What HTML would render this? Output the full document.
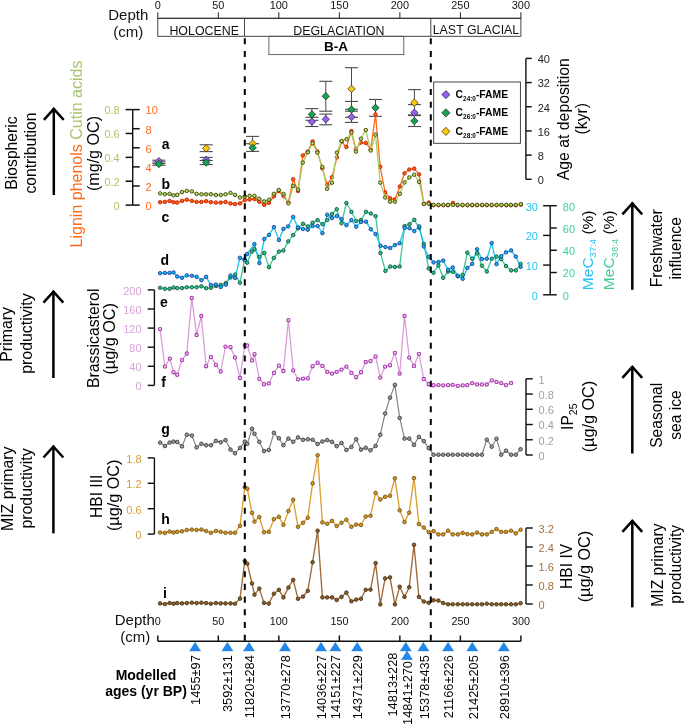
<!DOCTYPE html>
<html><head><meta charset="utf-8"><style>
html,body{margin:0;padding:0;background:#fff;width:685px;height:725px;overflow:hidden;position:relative}
svg text{font-family:"Liberation Sans",sans-serif}
svg{will-change:transform}
</style></head><body>
<svg width="685" height="725" viewBox="0 0 685 725" style="position:absolute;left:0;top:0">
<g font-family='"Liberation Sans", sans-serif'>
<line x1="157.8" y1="18.3" x2="520.9" y2="18.3" stroke="#222" stroke-width="1" />
<line x1="157.8" y1="12.3" x2="157.8" y2="18.3" stroke="#222" stroke-width="1" />
<text x="157.8" y="8.9" font-size="10.9" fill="#111" text-anchor="middle" font-weight="normal" >0</text>
<line x1="218.31666666666666" y1="12.3" x2="218.31666666666666" y2="18.3" stroke="#222" stroke-width="1" />
<text x="218.3" y="8.9" font-size="10.9" fill="#111" text-anchor="middle" font-weight="normal" >50</text>
<line x1="278.83333333333337" y1="12.3" x2="278.83333333333337" y2="18.3" stroke="#222" stroke-width="1" />
<text x="278.8" y="8.9" font-size="10.9" fill="#111" text-anchor="middle" font-weight="normal" >100</text>
<line x1="339.35" y1="12.3" x2="339.35" y2="18.3" stroke="#222" stroke-width="1" />
<text x="339.4" y="8.9" font-size="10.9" fill="#111" text-anchor="middle" font-weight="normal" >150</text>
<line x1="399.8666666666667" y1="12.3" x2="399.8666666666667" y2="18.3" stroke="#222" stroke-width="1" />
<text x="399.9" y="8.9" font-size="10.9" fill="#111" text-anchor="middle" font-weight="normal" >200</text>
<line x1="460.38333333333327" y1="12.3" x2="460.38333333333327" y2="18.3" stroke="#222" stroke-width="1" />
<text x="460.4" y="8.9" font-size="10.9" fill="#111" text-anchor="middle" font-weight="normal" >250</text>
<line x1="520.9" y1="12.3" x2="520.9" y2="18.3" stroke="#222" stroke-width="1" />
<text x="520.9" y="8.9" font-size="10.9" fill="#111" text-anchor="middle" font-weight="normal" >300</text>
<rect x="157.8" y="18.3" width="363.09999999999997" height="18" fill="none" stroke="#333" stroke-width="0.9"/>
<line x1="244.5" y1="18.3" x2="244.5" y2="36.3" stroke="#333" stroke-width="0.9" />
<line x1="430.8" y1="18.3" x2="430.8" y2="36.3" stroke="#333" stroke-width="0.9" />
<text x="204.2" y="34.5" font-size="12.4" fill="#111" text-anchor="middle" font-weight="normal" >HOLOCENE</text>
<text x="338.9" y="34.5" font-size="12.4" fill="#111" text-anchor="middle" font-weight="normal" >DEGLACIATION</text>
<text x="476" y="34.3" font-size="12.4" fill="#111" text-anchor="middle" font-weight="normal" >LAST GLACIAL</text>
<rect x="268.9" y="36.3" width="134.9" height="18.3" fill="none" stroke="#555" stroke-width="0.9"/>
<text x="336" y="50.6" font-size="13.5" fill="#000" text-anchor="middle" font-weight="bold" >B-A</text>
<text x="128.3" y="20.4" font-size="15" fill="#111" text-anchor="middle" font-weight="normal" >Depth</text>
<text x="128.3" y="37.1" font-size="15" fill="#111" text-anchor="middle" font-weight="normal" >(cm)</text>
<text transform="translate(17,153) rotate(-90)" font-size="15.7" fill="#000" text-anchor="middle" font-weight="normal">Biospheric</text>
<text transform="translate(36,153) rotate(-90)" font-size="15.7" fill="#000" text-anchor="middle" font-weight="normal">contribution</text>
<line x1="53.8" y1="108" x2="53.8" y2="195" stroke="#000" stroke-width="2.5"/>
<polyline points="43.9,119.8 53.8,108.8 63.699999999999996,119.8" fill="none" stroke="#000" stroke-width="2.5" stroke-linejoin="miter" stroke-miterlimit="10"/>
<text transform="translate(81.6,154) rotate(-90)" font-size="16" text-anchor="middle"><tspan fill="#ff6a1a">Lignin phenols </tspan><tspan fill="#a9c56b">Cutin acids</tspan></text>
<text transform="translate(99.3,153.5) rotate(-90)" font-size="16.1" fill="#000" text-anchor="middle" font-weight="normal">(mg/g OC)</text>
<line x1="132.7" y1="109.6" x2="132.7" y2="205.1" stroke="#111" stroke-width="1.4" />
<line x1="125.6" y1="205.1" x2="132.7" y2="205.1" stroke="#111" stroke-width="1.5" />
<text x="119.7" y="209.9" font-size="11" fill="#a9c56b" text-anchor="end" font-weight="normal" >0</text>
<line x1="125.6" y1="181.225" x2="132.7" y2="181.225" stroke="#111" stroke-width="1.5" />
<text x="119.7" y="186.025" font-size="11" fill="#a9c56b" text-anchor="end" font-weight="normal" >0.2</text>
<line x1="125.6" y1="157.35" x2="132.7" y2="157.35" stroke="#111" stroke-width="1.5" />
<text x="119.7" y="162.15" font-size="11" fill="#a9c56b" text-anchor="end" font-weight="normal" >0.4</text>
<line x1="125.6" y1="133.475" x2="132.7" y2="133.475" stroke="#111" stroke-width="1.5" />
<text x="119.7" y="138.275" font-size="11" fill="#a9c56b" text-anchor="end" font-weight="normal" >0.6</text>
<line x1="125.6" y1="109.6" x2="132.7" y2="109.6" stroke="#111" stroke-width="1.5" />
<text x="119.7" y="114.39999999999999" font-size="11" fill="#a9c56b" text-anchor="end" font-weight="normal" >0.8</text>
<line x1="132.7" y1="205.1" x2="139.7" y2="205.1" stroke="#111" stroke-width="1.5" />
<text x="145.6" y="209.9" font-size="11" fill="#ff6a1a" text-anchor="start" font-weight="normal" >0</text>
<line x1="132.7" y1="186.0" x2="139.7" y2="186.0" stroke="#111" stroke-width="1.5" />
<text x="145.6" y="190.8" font-size="11" fill="#ff6a1a" text-anchor="start" font-weight="normal" >2</text>
<line x1="132.7" y1="166.89999999999998" x2="139.7" y2="166.89999999999998" stroke="#111" stroke-width="1.5" />
<text x="145.6" y="171.7" font-size="11" fill="#ff6a1a" text-anchor="start" font-weight="normal" >4</text>
<line x1="132.7" y1="147.8" x2="139.7" y2="147.8" stroke="#111" stroke-width="1.5" />
<text x="145.6" y="152.60000000000002" font-size="11" fill="#ff6a1a" text-anchor="start" font-weight="normal" >6</text>
<line x1="132.7" y1="128.7" x2="139.7" y2="128.7" stroke="#111" stroke-width="1.5" />
<text x="145.6" y="133.5" font-size="11" fill="#ff6a1a" text-anchor="start" font-weight="normal" >8</text>
<line x1="132.7" y1="109.6" x2="139.7" y2="109.6" stroke="#111" stroke-width="1.5" />
<text x="145.6" y="114.39999999999999" font-size="11" fill="#ff6a1a" text-anchor="start" font-weight="normal" >10</text>
<text x="161.8" y="149" font-size="14" fill="#000" text-anchor="start" font-weight="bold" >a</text>
<text x="161.6" y="188.5" font-size="14" fill="#000" text-anchor="start" font-weight="bold" >b</text>
<line x1="525.9" y1="58.4" x2="525.9" y2="179.3" stroke="#111" stroke-width="1.4" />
<line x1="525.9" y1="179.3" x2="531.7" y2="179.3" stroke="#111" stroke-width="1.45" />
<text x="537.7" y="184.10000000000002" font-size="11" fill="#222" text-anchor="start" font-weight="normal" >0</text>
<line x1="525.9" y1="155.12" x2="531.7" y2="155.12" stroke="#111" stroke-width="1.45" />
<text x="537.7" y="159.92000000000002" font-size="11" fill="#222" text-anchor="start" font-weight="normal" >8</text>
<line x1="525.9" y1="130.94" x2="531.7" y2="130.94" stroke="#111" stroke-width="1.45" />
<text x="537.7" y="135.74" font-size="11" fill="#222" text-anchor="start" font-weight="normal" >16</text>
<line x1="525.9" y1="106.76" x2="531.7" y2="106.76" stroke="#111" stroke-width="1.45" />
<text x="537.7" y="111.56" font-size="11" fill="#222" text-anchor="start" font-weight="normal" >24</text>
<line x1="525.9" y1="82.58000000000001" x2="531.7" y2="82.58000000000001" stroke="#111" stroke-width="1.45" />
<text x="537.7" y="87.38000000000001" font-size="11" fill="#222" text-anchor="start" font-weight="normal" >32</text>
<line x1="525.9" y1="58.400000000000006" x2="531.7" y2="58.400000000000006" stroke="#111" stroke-width="1.45" />
<text x="537.7" y="63.2" font-size="11" fill="#222" text-anchor="start" font-weight="normal" >40</text>
<text transform="translate(568.6,119.2) rotate(-90)" font-size="15.8" fill="#000" text-anchor="middle" font-weight="normal">Age at deposition</text>
<text transform="translate(586.6,118.7) rotate(-90)" font-size="15.8" fill="#000" text-anchor="middle" font-weight="normal">(kyr)</text>
<rect x="433.7" y="82" width="86.7" height="61.3" fill="#fff" stroke="#333" stroke-width="0.9"/>
<polygon points="445.9,90.5 450.0,94.6 445.9,98.69999999999999 441.79999999999995,94.6" fill="#9a5cf6" stroke="#222" stroke-width="0.7"/>
<text x="455.6" y="97.8" font-size="11.6" font-weight="bold" textLength="52.5" lengthAdjust="spacingAndGlyphs">C<tspan font-size="7.2" dy="3">24:0</tspan><tspan dy="-3">-FAME</tspan></text>
<polygon points="445.9,108.7 450.0,112.8 445.9,116.89999999999999 441.79999999999995,112.8" fill="#14a452" stroke="#222" stroke-width="0.7"/>
<text x="455.6" y="116.0" font-size="11.6" font-weight="bold" textLength="52.5" lengthAdjust="spacingAndGlyphs">C<tspan font-size="7.2" dy="3">26:0</tspan><tspan dy="-3">-FAME</tspan></text>
<polygon points="445.9,127.30000000000001 450.0,131.4 445.9,135.5 441.79999999999995,131.4" fill="#ffc800" stroke="#222" stroke-width="0.7"/>
<text x="455.6" y="134.6" font-size="11.6" font-weight="bold" textLength="52.5" lengthAdjust="spacingAndGlyphs">C<tspan font-size="7.2" dy="3">28:0</tspan><tspan dy="-3">-FAME</tspan></text>
<line x1="158.9" y1="160.2" x2="158.9" y2="162" stroke="#4a4a4a" stroke-width="1" />
<line x1="158.9" y1="163.6" x2="158.9" y2="165.3" stroke="#4a4a4a" stroke-width="1" />
<line x1="152.4" y1="160.2" x2="165.4" y2="160.2" stroke="#4a4a4a" stroke-width="1.1" />
<line x1="152.4" y1="162" x2="165.4" y2="162" stroke="#4a4a4a" stroke-width="1.1" />
<line x1="152.4" y1="163.6" x2="165.4" y2="163.6" stroke="#4a4a4a" stroke-width="1.1" />
<line x1="152.4" y1="165.3" x2="165.4" y2="165.3" stroke="#4a4a4a" stroke-width="1.1" />
<line x1="206.2" y1="144.8" x2="206.2" y2="151.6" stroke="#4a4a4a" stroke-width="1" />
<line x1="206.2" y1="157.4" x2="206.2" y2="164.6" stroke="#4a4a4a" stroke-width="1" />
<line x1="199.7" y1="144.8" x2="212.7" y2="144.8" stroke="#4a4a4a" stroke-width="1.1" />
<line x1="199.7" y1="151.6" x2="212.7" y2="151.6" stroke="#4a4a4a" stroke-width="1.1" />
<line x1="199.7" y1="157.4" x2="212.7" y2="157.4" stroke="#4a4a4a" stroke-width="1.1" />
<line x1="199.7" y1="160.5" x2="212.7" y2="160.5" stroke="#4a4a4a" stroke-width="1.1" />
<line x1="199.7" y1="164.6" x2="212.7" y2="164.6" stroke="#4a4a4a" stroke-width="1.1" />
<line x1="252.6" y1="136.4" x2="252.6" y2="151.4" stroke="#4a4a4a" stroke-width="1" />
<line x1="246.1" y1="136.4" x2="259.1" y2="136.4" stroke="#4a4a4a" stroke-width="1.1" />
<line x1="246.1" y1="143.7" x2="259.1" y2="143.7" stroke="#4a4a4a" stroke-width="1.1" />
<line x1="246.1" y1="151.4" x2="259.1" y2="151.4" stroke="#4a4a4a" stroke-width="1.1" />
<line x1="311.9" y1="108.6" x2="311.9" y2="126.5" stroke="#4a4a4a" stroke-width="1" />
<line x1="305.4" y1="108.6" x2="318.4" y2="108.6" stroke="#4a4a4a" stroke-width="1.1" />
<line x1="305.4" y1="117.3" x2="318.4" y2="117.3" stroke="#4a4a4a" stroke-width="1.1" />
<line x1="305.4" y1="120.3" x2="318.4" y2="120.3" stroke="#4a4a4a" stroke-width="1.1" />
<line x1="305.4" y1="126.5" x2="318.4" y2="126.5" stroke="#4a4a4a" stroke-width="1.1" />
<line x1="325.8" y1="81.3" x2="325.8" y2="111.2" stroke="#4a4a4a" stroke-width="1" />
<line x1="325.8" y1="114.1" x2="325.8" y2="124.8" stroke="#4a4a4a" stroke-width="1" />
<line x1="319.3" y1="81.3" x2="332.3" y2="81.3" stroke="#4a4a4a" stroke-width="1.1" />
<line x1="319.3" y1="111.2" x2="332.3" y2="111.2" stroke="#4a4a4a" stroke-width="1.1" />
<line x1="319.3" y1="114.1" x2="332.3" y2="114.1" stroke="#4a4a4a" stroke-width="1.1" />
<line x1="319.3" y1="124.8" x2="332.3" y2="124.8" stroke="#4a4a4a" stroke-width="1.1" />
<line x1="351.5" y1="67.7" x2="351.5" y2="122.4" stroke="#4a4a4a" stroke-width="1" />
<line x1="345.0" y1="67.7" x2="358.0" y2="67.7" stroke="#4a4a4a" stroke-width="1.1" />
<line x1="345.0" y1="101.4" x2="358.0" y2="101.4" stroke="#4a4a4a" stroke-width="1.1" />
<line x1="345.0" y1="109.3" x2="358.0" y2="109.3" stroke="#4a4a4a" stroke-width="1.1" />
<line x1="345.0" y1="111.2" x2="358.0" y2="111.2" stroke="#4a4a4a" stroke-width="1.1" />
<line x1="345.0" y1="117.3" x2="358.0" y2="117.3" stroke="#4a4a4a" stroke-width="1.1" />
<line x1="345.0" y1="122.4" x2="358.0" y2="122.4" stroke="#4a4a4a" stroke-width="1.1" />
<line x1="375.5" y1="99.5" x2="375.5" y2="116.3" stroke="#4a4a4a" stroke-width="1" />
<line x1="369.0" y1="99.5" x2="382.0" y2="99.5" stroke="#4a4a4a" stroke-width="1.1" />
<line x1="369.0" y1="116.3" x2="382.0" y2="116.3" stroke="#4a4a4a" stroke-width="1.1" />
<line x1="414.4" y1="89.6" x2="414.4" y2="126.5" stroke="#4a4a4a" stroke-width="1" />
<line x1="407.9" y1="89.6" x2="420.9" y2="89.6" stroke="#4a4a4a" stroke-width="1.1" />
<line x1="407.9" y1="104.6" x2="420.9" y2="104.6" stroke="#4a4a4a" stroke-width="1.1" />
<line x1="407.9" y1="114.9" x2="420.9" y2="114.9" stroke="#4a4a4a" stroke-width="1.1" />
<line x1="407.9" y1="115.6" x2="420.9" y2="115.6" stroke="#4a4a4a" stroke-width="1.1" />
<line x1="407.9" y1="126.5" x2="420.9" y2="126.5" stroke="#4a4a4a" stroke-width="1.1" />
<polyline points="160.1,202.2 164.9,201.9 169.6,200.9 173.5,202.2 177.2,202.6 182.0,200.9 186.8,199.7 191.8,200.9 196.6,201.9 201.4,201.9 206.1,201.2 210.9,202.2 215.9,202.6 220.7,202.6 225.5,201.9 230.5,203.4 235.0,204.1 240.0,203.4 244.8,200.0 249.7,199.5 254.5,199.0 259.2,201.7 264.2,204.9 269.0,202.8 273.8,196.4 278.8,191.0 283.6,196.1 288.4,202.3 293.2,179.3 298.0,191.0 302.8,155.5 307.8,151.6 312.6,141.4 317.4,151.6 322.3,168.4 327.1,184.5 332.0,177.2 336.9,157.4 341.6,141.5 346.4,147.0 351.4,131.1 355.9,149.3 360.9,142.5 365.8,142.9 370.7,149.3 375.5,114.4 380.2,166.8 385.1,192.3 390.1,198.3 394.9,199.4 399.9,186.5 404.5,173.3 409.3,169.5 414.2,168.6 419.1,174.4 423.9,203.9 428.8,202.6 433.6,205.2 438.5,205.2 443.4,205.2 448.0,205.2 452.9,203.0 457.7,205.2 462.6,205.2 467.5,205.2 472.2,205.2 477.1,205.2 482.1,205.2 486.8,205.2 491.7,205.2 496.6,205.2 501.4,205.2 506.3,205.2 510.9,205.2 515.8,205.2 520.9,204.6" fill="none" stroke="#ff6a1a" stroke-width="1.3" stroke-linejoin="round"/>
<circle cx="160.1" cy="202.2" r="1.75" fill="#ff6400" stroke="#c0180c" stroke-width="0.9"/>
<circle cx="164.9" cy="201.9" r="1.75" fill="#ff6400" stroke="#c0180c" stroke-width="0.9"/>
<circle cx="169.6" cy="200.9" r="1.75" fill="#ff6400" stroke="#c0180c" stroke-width="0.9"/>
<circle cx="173.5" cy="202.2" r="1.75" fill="#ff6400" stroke="#c0180c" stroke-width="0.9"/>
<circle cx="177.2" cy="202.6" r="1.75" fill="#ff6400" stroke="#c0180c" stroke-width="0.9"/>
<circle cx="182.0" cy="200.9" r="1.75" fill="#ff6400" stroke="#c0180c" stroke-width="0.9"/>
<circle cx="186.8" cy="199.7" r="1.75" fill="#ff6400" stroke="#c0180c" stroke-width="0.9"/>
<circle cx="191.8" cy="200.9" r="1.75" fill="#ff6400" stroke="#c0180c" stroke-width="0.9"/>
<circle cx="196.6" cy="201.9" r="1.75" fill="#ff6400" stroke="#c0180c" stroke-width="0.9"/>
<circle cx="201.4" cy="201.9" r="1.75" fill="#ff6400" stroke="#c0180c" stroke-width="0.9"/>
<circle cx="206.1" cy="201.2" r="1.75" fill="#ff6400" stroke="#c0180c" stroke-width="0.9"/>
<circle cx="210.9" cy="202.2" r="1.75" fill="#ff6400" stroke="#c0180c" stroke-width="0.9"/>
<circle cx="215.9" cy="202.6" r="1.75" fill="#ff6400" stroke="#c0180c" stroke-width="0.9"/>
<circle cx="220.7" cy="202.6" r="1.75" fill="#ff6400" stroke="#c0180c" stroke-width="0.9"/>
<circle cx="225.5" cy="201.9" r="1.75" fill="#ff6400" stroke="#c0180c" stroke-width="0.9"/>
<circle cx="230.5" cy="203.4" r="1.75" fill="#ff6400" stroke="#c0180c" stroke-width="0.9"/>
<circle cx="235.0" cy="204.1" r="1.75" fill="#ff6400" stroke="#c0180c" stroke-width="0.9"/>
<circle cx="240.0" cy="203.4" r="1.75" fill="#ff6400" stroke="#c0180c" stroke-width="0.9"/>
<circle cx="244.8" cy="200.0" r="1.75" fill="#ff6400" stroke="#c0180c" stroke-width="0.9"/>
<circle cx="249.7" cy="199.5" r="1.75" fill="#ff6400" stroke="#c0180c" stroke-width="0.9"/>
<circle cx="254.5" cy="199.0" r="1.75" fill="#ff6400" stroke="#c0180c" stroke-width="0.9"/>
<circle cx="259.2" cy="201.7" r="1.75" fill="#ff6400" stroke="#c0180c" stroke-width="0.9"/>
<circle cx="264.2" cy="204.9" r="1.75" fill="#ff6400" stroke="#c0180c" stroke-width="0.9"/>
<circle cx="269.0" cy="202.8" r="1.75" fill="#ff6400" stroke="#c0180c" stroke-width="0.9"/>
<circle cx="273.8" cy="196.4" r="1.75" fill="#ff6400" stroke="#c0180c" stroke-width="0.9"/>
<circle cx="278.8" cy="191.0" r="1.75" fill="#ff6400" stroke="#c0180c" stroke-width="0.9"/>
<circle cx="283.6" cy="196.1" r="1.75" fill="#ff6400" stroke="#c0180c" stroke-width="0.9"/>
<circle cx="288.4" cy="202.3" r="1.75" fill="#ff6400" stroke="#c0180c" stroke-width="0.9"/>
<circle cx="293.2" cy="179.3" r="1.75" fill="#ff6400" stroke="#c0180c" stroke-width="0.9"/>
<circle cx="298.0" cy="191.0" r="1.75" fill="#ff6400" stroke="#c0180c" stroke-width="0.9"/>
<circle cx="302.8" cy="155.5" r="1.75" fill="#ff6400" stroke="#c0180c" stroke-width="0.9"/>
<circle cx="307.8" cy="151.6" r="1.75" fill="#ff6400" stroke="#c0180c" stroke-width="0.9"/>
<circle cx="312.6" cy="141.4" r="1.75" fill="#ff6400" stroke="#c0180c" stroke-width="0.9"/>
<circle cx="317.4" cy="151.6" r="1.75" fill="#ff6400" stroke="#c0180c" stroke-width="0.9"/>
<circle cx="322.3" cy="168.4" r="1.75" fill="#ff6400" stroke="#c0180c" stroke-width="0.9"/>
<circle cx="327.1" cy="184.5" r="1.75" fill="#ff6400" stroke="#c0180c" stroke-width="0.9"/>
<circle cx="332.0" cy="177.2" r="1.75" fill="#ff6400" stroke="#c0180c" stroke-width="0.9"/>
<circle cx="336.9" cy="157.4" r="1.75" fill="#ff6400" stroke="#c0180c" stroke-width="0.9"/>
<circle cx="341.6" cy="141.5" r="1.75" fill="#ff6400" stroke="#c0180c" stroke-width="0.9"/>
<circle cx="346.4" cy="147.0" r="1.75" fill="#ff6400" stroke="#c0180c" stroke-width="0.9"/>
<circle cx="351.4" cy="131.1" r="1.75" fill="#ff6400" stroke="#c0180c" stroke-width="0.9"/>
<circle cx="355.9" cy="149.3" r="1.75" fill="#ff6400" stroke="#c0180c" stroke-width="0.9"/>
<circle cx="360.9" cy="142.5" r="1.75" fill="#ff6400" stroke="#c0180c" stroke-width="0.9"/>
<circle cx="365.8" cy="142.9" r="1.75" fill="#ff6400" stroke="#c0180c" stroke-width="0.9"/>
<circle cx="370.7" cy="149.3" r="1.75" fill="#ff6400" stroke="#c0180c" stroke-width="0.9"/>
<circle cx="375.5" cy="114.4" r="1.75" fill="#ff6400" stroke="#c0180c" stroke-width="0.9"/>
<circle cx="380.2" cy="166.8" r="1.75" fill="#ff6400" stroke="#c0180c" stroke-width="0.9"/>
<circle cx="385.1" cy="192.3" r="1.75" fill="#ff6400" stroke="#c0180c" stroke-width="0.9"/>
<circle cx="390.1" cy="198.3" r="1.75" fill="#ff6400" stroke="#c0180c" stroke-width="0.9"/>
<circle cx="394.9" cy="199.4" r="1.75" fill="#ff6400" stroke="#c0180c" stroke-width="0.9"/>
<circle cx="399.9" cy="186.5" r="1.75" fill="#ff6400" stroke="#c0180c" stroke-width="0.9"/>
<circle cx="404.5" cy="173.3" r="1.75" fill="#ff6400" stroke="#c0180c" stroke-width="0.9"/>
<circle cx="409.3" cy="169.5" r="1.75" fill="#ff6400" stroke="#c0180c" stroke-width="0.9"/>
<circle cx="414.2" cy="168.6" r="1.75" fill="#ff6400" stroke="#c0180c" stroke-width="0.9"/>
<circle cx="419.1" cy="174.4" r="1.75" fill="#ff6400" stroke="#c0180c" stroke-width="0.9"/>
<circle cx="423.9" cy="203.9" r="1.75" fill="#ff6400" stroke="#c0180c" stroke-width="0.9"/>
<circle cx="428.8" cy="202.6" r="1.75" fill="#ff6400" stroke="#c0180c" stroke-width="0.9"/>
<circle cx="433.6" cy="205.2" r="1.75" fill="#ff6400" stroke="#c0180c" stroke-width="0.9"/>
<circle cx="438.5" cy="205.2" r="1.75" fill="#ff6400" stroke="#c0180c" stroke-width="0.9"/>
<circle cx="443.4" cy="205.2" r="1.75" fill="#ff6400" stroke="#c0180c" stroke-width="0.9"/>
<circle cx="448.0" cy="205.2" r="1.75" fill="#ff6400" stroke="#c0180c" stroke-width="0.9"/>
<circle cx="452.9" cy="203.0" r="1.75" fill="#ff6400" stroke="#c0180c" stroke-width="0.9"/>
<circle cx="457.7" cy="205.2" r="1.75" fill="#ff6400" stroke="#c0180c" stroke-width="0.9"/>
<circle cx="462.6" cy="205.2" r="1.75" fill="#ff6400" stroke="#c0180c" stroke-width="0.9"/>
<circle cx="467.5" cy="205.2" r="1.75" fill="#ff6400" stroke="#c0180c" stroke-width="0.9"/>
<circle cx="472.2" cy="205.2" r="1.75" fill="#ff6400" stroke="#c0180c" stroke-width="0.9"/>
<circle cx="477.1" cy="205.2" r="1.75" fill="#ff6400" stroke="#c0180c" stroke-width="0.9"/>
<circle cx="482.1" cy="205.2" r="1.75" fill="#ff6400" stroke="#c0180c" stroke-width="0.9"/>
<circle cx="486.8" cy="205.2" r="1.75" fill="#ff6400" stroke="#c0180c" stroke-width="0.9"/>
<circle cx="491.7" cy="205.2" r="1.75" fill="#ff6400" stroke="#c0180c" stroke-width="0.9"/>
<circle cx="496.6" cy="205.2" r="1.75" fill="#ff6400" stroke="#c0180c" stroke-width="0.9"/>
<circle cx="501.4" cy="205.2" r="1.75" fill="#ff6400" stroke="#c0180c" stroke-width="0.9"/>
<circle cx="506.3" cy="205.2" r="1.75" fill="#ff6400" stroke="#c0180c" stroke-width="0.9"/>
<circle cx="510.9" cy="205.2" r="1.75" fill="#ff6400" stroke="#c0180c" stroke-width="0.9"/>
<circle cx="515.8" cy="205.2" r="1.75" fill="#ff6400" stroke="#c0180c" stroke-width="0.9"/>
<circle cx="520.9" cy="204.6" r="1.75" fill="#ff6400" stroke="#c0180c" stroke-width="0.9"/>
<polyline points="160.1,193.4 164.9,194.2 169.6,193.9 173.5,195.3 177.2,194.9 182.0,192.0 186.8,190.9 191.8,191.4 196.6,193.9 201.4,194.3 206.1,194.3 210.9,194.2 215.9,195.0 220.7,195.0 225.5,194.3 230.5,192.8 235.0,194.9 240.0,197.5 244.8,196.4 249.7,195.8 254.5,195.8 259.2,198.8 264.2,201.4 269.0,199.8 273.8,193.9 278.8,190.0 283.6,193.9 288.4,203.4 293.2,185.9 298.0,189.6 302.8,162.6 307.8,152.3 312.6,143.3 317.4,152.6 322.3,166.9 327.1,188.8 332.0,182.7 336.9,152.6 341.6,141.0 346.5,139.2 351.4,132.6 355.9,151.6 360.9,138.7 365.8,130.0 370.7,150.5 375.5,134.6 380.2,182.7 385.1,197.4 390.1,201.7 394.9,201.7 399.9,193.8 404.5,182.4 409.3,177.4 414.2,174.7 419.1,181.9 423.9,203.9 428.8,203.9 433.6,204.8 438.5,204.8 443.4,204.9 448.0,204.9 452.9,204.9 457.7,204.9 462.6,204.9 467.5,204.9 472.2,204.9 477.1,204.9 482.1,204.9 486.8,204.9 491.7,204.9 496.6,204.9 501.4,204.9 506.3,204.9 510.9,204.9 515.8,204.9 520.9,204.1" fill="none" stroke="#a9cf62" stroke-width="1.3" stroke-linejoin="round"/>
<circle cx="160.1" cy="193.4" r="1.75" fill="#b5dc5a" stroke="#3a4212" stroke-width="0.9"/>
<circle cx="164.9" cy="194.2" r="1.75" fill="#b5dc5a" stroke="#3a4212" stroke-width="0.9"/>
<circle cx="169.6" cy="193.9" r="1.75" fill="#b5dc5a" stroke="#3a4212" stroke-width="0.9"/>
<circle cx="173.5" cy="195.3" r="1.75" fill="#b5dc5a" stroke="#3a4212" stroke-width="0.9"/>
<circle cx="177.2" cy="194.9" r="1.75" fill="#b5dc5a" stroke="#3a4212" stroke-width="0.9"/>
<circle cx="182.0" cy="192.0" r="1.75" fill="#b5dc5a" stroke="#3a4212" stroke-width="0.9"/>
<circle cx="186.8" cy="190.9" r="1.75" fill="#b5dc5a" stroke="#3a4212" stroke-width="0.9"/>
<circle cx="191.8" cy="191.4" r="1.75" fill="#b5dc5a" stroke="#3a4212" stroke-width="0.9"/>
<circle cx="196.6" cy="193.9" r="1.75" fill="#b5dc5a" stroke="#3a4212" stroke-width="0.9"/>
<circle cx="201.4" cy="194.3" r="1.75" fill="#b5dc5a" stroke="#3a4212" stroke-width="0.9"/>
<circle cx="206.1" cy="194.3" r="1.75" fill="#b5dc5a" stroke="#3a4212" stroke-width="0.9"/>
<circle cx="210.9" cy="194.2" r="1.75" fill="#b5dc5a" stroke="#3a4212" stroke-width="0.9"/>
<circle cx="215.9" cy="195.0" r="1.75" fill="#b5dc5a" stroke="#3a4212" stroke-width="0.9"/>
<circle cx="220.7" cy="195.0" r="1.75" fill="#b5dc5a" stroke="#3a4212" stroke-width="0.9"/>
<circle cx="225.5" cy="194.3" r="1.75" fill="#b5dc5a" stroke="#3a4212" stroke-width="0.9"/>
<circle cx="230.5" cy="192.8" r="1.75" fill="#b5dc5a" stroke="#3a4212" stroke-width="0.9"/>
<circle cx="235.0" cy="194.9" r="1.75" fill="#b5dc5a" stroke="#3a4212" stroke-width="0.9"/>
<circle cx="240.0" cy="197.5" r="1.75" fill="#b5dc5a" stroke="#3a4212" stroke-width="0.9"/>
<circle cx="244.8" cy="196.4" r="1.75" fill="#b5dc5a" stroke="#3a4212" stroke-width="0.9"/>
<circle cx="249.7" cy="195.8" r="1.75" fill="#b5dc5a" stroke="#3a4212" stroke-width="0.9"/>
<circle cx="254.5" cy="195.8" r="1.75" fill="#b5dc5a" stroke="#3a4212" stroke-width="0.9"/>
<circle cx="259.2" cy="198.8" r="1.75" fill="#b5dc5a" stroke="#3a4212" stroke-width="0.9"/>
<circle cx="264.2" cy="201.4" r="1.75" fill="#b5dc5a" stroke="#3a4212" stroke-width="0.9"/>
<circle cx="269.0" cy="199.8" r="1.75" fill="#b5dc5a" stroke="#3a4212" stroke-width="0.9"/>
<circle cx="273.8" cy="193.9" r="1.75" fill="#b5dc5a" stroke="#3a4212" stroke-width="0.9"/>
<circle cx="278.8" cy="190.0" r="1.75" fill="#b5dc5a" stroke="#3a4212" stroke-width="0.9"/>
<circle cx="283.6" cy="193.9" r="1.75" fill="#b5dc5a" stroke="#3a4212" stroke-width="0.9"/>
<circle cx="288.4" cy="203.4" r="1.75" fill="#b5dc5a" stroke="#3a4212" stroke-width="0.9"/>
<circle cx="293.2" cy="185.9" r="1.75" fill="#b5dc5a" stroke="#3a4212" stroke-width="0.9"/>
<circle cx="298.0" cy="189.6" r="1.75" fill="#b5dc5a" stroke="#3a4212" stroke-width="0.9"/>
<circle cx="302.8" cy="162.6" r="1.75" fill="#b5dc5a" stroke="#3a4212" stroke-width="0.9"/>
<circle cx="307.8" cy="152.3" r="1.75" fill="#b5dc5a" stroke="#3a4212" stroke-width="0.9"/>
<circle cx="312.6" cy="143.3" r="1.75" fill="#b5dc5a" stroke="#3a4212" stroke-width="0.9"/>
<circle cx="317.4" cy="152.6" r="1.75" fill="#b5dc5a" stroke="#3a4212" stroke-width="0.9"/>
<circle cx="322.3" cy="166.9" r="1.75" fill="#b5dc5a" stroke="#3a4212" stroke-width="0.9"/>
<circle cx="327.1" cy="188.8" r="1.75" fill="#b5dc5a" stroke="#3a4212" stroke-width="0.9"/>
<circle cx="332.0" cy="182.7" r="1.75" fill="#b5dc5a" stroke="#3a4212" stroke-width="0.9"/>
<circle cx="336.9" cy="152.6" r="1.75" fill="#b5dc5a" stroke="#3a4212" stroke-width="0.9"/>
<circle cx="341.6" cy="141.0" r="1.75" fill="#b5dc5a" stroke="#3a4212" stroke-width="0.9"/>
<circle cx="346.5" cy="139.2" r="1.75" fill="#b5dc5a" stroke="#3a4212" stroke-width="0.9"/>
<circle cx="351.4" cy="132.6" r="1.75" fill="#b5dc5a" stroke="#3a4212" stroke-width="0.9"/>
<circle cx="355.9" cy="151.6" r="1.75" fill="#b5dc5a" stroke="#3a4212" stroke-width="0.9"/>
<circle cx="360.9" cy="138.7" r="1.75" fill="#b5dc5a" stroke="#3a4212" stroke-width="0.9"/>
<circle cx="365.8" cy="130.0" r="1.75" fill="#b5dc5a" stroke="#3a4212" stroke-width="0.9"/>
<circle cx="370.7" cy="150.5" r="1.75" fill="#b5dc5a" stroke="#3a4212" stroke-width="0.9"/>
<circle cx="375.5" cy="134.6" r="1.75" fill="#b5dc5a" stroke="#3a4212" stroke-width="0.9"/>
<circle cx="380.2" cy="182.7" r="1.75" fill="#b5dc5a" stroke="#3a4212" stroke-width="0.9"/>
<circle cx="385.1" cy="197.4" r="1.75" fill="#b5dc5a" stroke="#3a4212" stroke-width="0.9"/>
<circle cx="390.1" cy="201.7" r="1.75" fill="#b5dc5a" stroke="#3a4212" stroke-width="0.9"/>
<circle cx="394.9" cy="201.7" r="1.75" fill="#b5dc5a" stroke="#3a4212" stroke-width="0.9"/>
<circle cx="399.9" cy="193.8" r="1.75" fill="#b5dc5a" stroke="#3a4212" stroke-width="0.9"/>
<circle cx="404.5" cy="182.4" r="1.75" fill="#b5dc5a" stroke="#3a4212" stroke-width="0.9"/>
<circle cx="409.3" cy="177.4" r="1.75" fill="#b5dc5a" stroke="#3a4212" stroke-width="0.9"/>
<circle cx="414.2" cy="174.7" r="1.75" fill="#b5dc5a" stroke="#3a4212" stroke-width="0.9"/>
<circle cx="419.1" cy="181.9" r="1.75" fill="#b5dc5a" stroke="#3a4212" stroke-width="0.9"/>
<circle cx="423.9" cy="203.9" r="1.75" fill="#b5dc5a" stroke="#3a4212" stroke-width="0.9"/>
<circle cx="428.8" cy="203.9" r="1.75" fill="#b5dc5a" stroke="#3a4212" stroke-width="0.9"/>
<circle cx="433.6" cy="204.8" r="1.75" fill="#b5dc5a" stroke="#3a4212" stroke-width="0.9"/>
<circle cx="438.5" cy="204.8" r="1.75" fill="#b5dc5a" stroke="#3a4212" stroke-width="0.9"/>
<circle cx="443.4" cy="204.9" r="1.75" fill="#b5dc5a" stroke="#3a4212" stroke-width="0.9"/>
<circle cx="448.0" cy="204.9" r="1.75" fill="#b5dc5a" stroke="#3a4212" stroke-width="0.9"/>
<circle cx="452.9" cy="204.9" r="1.75" fill="#b5dc5a" stroke="#3a4212" stroke-width="0.9"/>
<circle cx="457.7" cy="204.9" r="1.75" fill="#b5dc5a" stroke="#3a4212" stroke-width="0.9"/>
<circle cx="462.6" cy="204.9" r="1.75" fill="#b5dc5a" stroke="#3a4212" stroke-width="0.9"/>
<circle cx="467.5" cy="204.9" r="1.75" fill="#b5dc5a" stroke="#3a4212" stroke-width="0.9"/>
<circle cx="472.2" cy="204.9" r="1.75" fill="#b5dc5a" stroke="#3a4212" stroke-width="0.9"/>
<circle cx="477.1" cy="204.9" r="1.75" fill="#b5dc5a" stroke="#3a4212" stroke-width="0.9"/>
<circle cx="482.1" cy="204.9" r="1.75" fill="#b5dc5a" stroke="#3a4212" stroke-width="0.9"/>
<circle cx="486.8" cy="204.9" r="1.75" fill="#b5dc5a" stroke="#3a4212" stroke-width="0.9"/>
<circle cx="491.7" cy="204.9" r="1.75" fill="#b5dc5a" stroke="#3a4212" stroke-width="0.9"/>
<circle cx="496.6" cy="204.9" r="1.75" fill="#b5dc5a" stroke="#3a4212" stroke-width="0.9"/>
<circle cx="501.4" cy="204.9" r="1.75" fill="#b5dc5a" stroke="#3a4212" stroke-width="0.9"/>
<circle cx="506.3" cy="204.9" r="1.75" fill="#b5dc5a" stroke="#3a4212" stroke-width="0.9"/>
<circle cx="510.9" cy="204.9" r="1.75" fill="#b5dc5a" stroke="#3a4212" stroke-width="0.9"/>
<circle cx="515.8" cy="204.9" r="1.75" fill="#b5dc5a" stroke="#3a4212" stroke-width="0.9"/>
<circle cx="520.9" cy="204.1" r="1.75" fill="#b5dc5a" stroke="#3a4212" stroke-width="0.9"/>
<polygon points="158.9,157.5 162.6,161.2 158.9,164.89999999999998 155.20000000000002,161.2" fill="#9a5cf6" stroke="#222" stroke-width="0.7"/>
<polygon points="158.9,160.3 162.6,164 158.9,167.7 155.20000000000002,164" fill="#14a452" stroke="#222" stroke-width="0.7"/>
<polygon points="206.2,144.70000000000002 209.89999999999998,148.4 206.2,152.1 202.5,148.4" fill="#ffc800" stroke="#222" stroke-width="0.7"/>
<polygon points="206.2,156.10000000000002 209.89999999999998,159.8 206.2,163.5 202.5,159.8" fill="#9a5cf6" stroke="#222" stroke-width="0.7"/>
<polygon points="206.2,158.9 209.89999999999998,162.6 206.2,166.29999999999998 202.5,162.6" fill="#14a452" stroke="#222" stroke-width="0.7"/>
<polygon points="252.6,140.0 256.3,143.7 252.6,147.39999999999998 248.9,143.7" fill="#ffc800" stroke="#222" stroke-width="0.7"/>
<polygon points="252.6,144.0 256.3,147.7 252.6,151.39999999999998 248.9,147.7" fill="#14a452" stroke="#222" stroke-width="0.7"/>
<polygon points="311.9,110.7 315.59999999999997,114.4 311.9,118.10000000000001 308.2,114.4" fill="#14a452" stroke="#222" stroke-width="0.7"/>
<polygon points="311.9,118.0 315.59999999999997,121.7 311.9,125.4 308.2,121.7" fill="#9a5cf6" stroke="#222" stroke-width="0.7"/>
<polygon points="325.8,92.5 329.5,96.2 325.8,99.9 322.1,96.2" fill="#14a452" stroke="#222" stroke-width="0.7"/>
<polygon points="325.8,115.5 329.5,119.2 325.8,122.9 322.1,119.2" fill="#9a5cf6" stroke="#222" stroke-width="0.7"/>
<polygon points="351.5,85.2 355.2,88.9 351.5,92.60000000000001 347.8,88.9" fill="#ffc800" stroke="#222" stroke-width="0.7"/>
<polygon points="351.5,105.8 355.2,109.5 351.5,113.2 347.8,109.5" fill="#14a452" stroke="#222" stroke-width="0.7"/>
<polygon points="351.5,113.3 355.2,117 351.5,120.7 347.8,117" fill="#9a5cf6" stroke="#222" stroke-width="0.7"/>
<polygon points="375.5,104.1 379.2,107.8 375.5,111.5 371.8,107.8" fill="#14a452" stroke="#222" stroke-width="0.7"/>
<polygon points="414.4,99.0 418.09999999999997,102.7 414.4,106.4 410.7,102.7" fill="#ffc800" stroke="#222" stroke-width="0.7"/>
<polygon points="414.4,109.0 418.09999999999997,112.7 414.4,116.4 410.7,112.7" fill="#9a5cf6" stroke="#222" stroke-width="0.7"/>
<polygon points="414.4,117.3 418.09999999999997,121 414.4,124.7 410.7,121" fill="#14a452" stroke="#222" stroke-width="0.7"/>
<polyline points="160.1,287.8 164.9,288.8 169.6,288.8 173.5,287.5 177.2,288.1 182.0,288.1 186.8,287.3 191.8,287.3 196.6,287.3 201.4,286.3 206.1,288.2 210.9,287.8 215.9,286.0 220.7,284.9 225.8,283.0 230.4,277.6 235.1,274.6 239.9,282.8 244.7,259.4 247.2,262.7 251.9,251.6 254.4,249.1 259.4,256.9 264.3,253.0 269.0,267.2 273.8,257.9 278.9,251.6 283.4,250.5 288.2,241.4 293.2,235.1 298.0,228.3 303.0,223.8 307.8,226.4 312.6,222.7 317.6,220.1 322.4,224.2 327.2,220.1 332.0,214.0 336.7,209.2 341.5,223.3 346.4,203.0 351.4,211.8 356.2,221.0 361.0,220.1 366.0,211.8 370.8,213.5 375.6,216.2 380.5,253.0 385.4,270.9 390.2,266.5 394.9,267.0 399.7,266.5 404.6,226.1 409.5,224.2 414.3,219.8 419.2,227.8 423.8,243.9 428.7,268.5 433.5,272.8 438.4,265.4 443.2,277.8 448.1,271.5 452.7,271.8 457.8,276.2 462.7,274.9 467.3,252.6 472.2,258.7 477.1,253.3 481.9,265.7 486.8,271.5 491.7,258.7 496.5,256.6 501.2,259.1 506.0,266.0 511.1,270.4 515.8,270.4 520.6,263.9" fill="none" stroke="#3cc896" stroke-width="1.3" stroke-linejoin="round"/>
<polyline points="160.1,273.2 164.9,272.9 169.6,272.9 173.5,272.4 177.2,276.5 182.0,277.8 186.8,275.4 191.8,275.8 196.6,276.8 201.4,280.2 206.1,276.8 210.9,285.1 215.9,284.6 220.7,287.0 225.8,284.7 230.4,275.6 235.1,277.9 239.9,257.8 244.7,260.2 247.2,254.0 254.4,244.1 259.4,263.1 264.3,239.0 269.0,234.9 273.9,227.1 278.9,240.0 283.4,228.9 288.2,226.4 293.2,216.9 298.0,227.4 303.0,228.9 307.8,229.7 312.6,226.0 317.6,226.0 322.4,233.2 327.2,214.7 332.0,218.1 336.8,216.0 341.6,219.1 346.4,225.2 351.4,220.1 356.2,226.7 361.0,222.0 366.0,221.7 370.8,229.3 375.6,234.1 380.5,245.8 385.4,247.1 390.2,248.0 394.9,245.1 399.7,243.2 404.6,227.8 409.5,228.3 414.3,231.1 419.2,226.4 423.8,246.5 428.7,257.0 433.5,262.4 438.4,262.0 443.2,260.6 448.1,269.8 452.7,267.4 457.8,275.9 462.7,278.8 467.3,267.9 472.2,263.9 477.1,249.3 481.9,259.1 486.8,258.7 491.7,243.1 496.5,264.2 501.2,256.2 506.0,252.3 511.1,250.4 515.8,256.6 520.6,266.9" fill="none" stroke="#19c3f5" stroke-width="1.3" stroke-linejoin="round"/>
<circle cx="160.1" cy="287.8" r="1.75" fill="#30c88a" stroke="#0c4a34" stroke-width="0.85"/>
<circle cx="164.9" cy="288.8" r="1.75" fill="#30c88a" stroke="#0c4a34" stroke-width="0.85"/>
<circle cx="169.6" cy="288.8" r="1.75" fill="#30c88a" stroke="#0c4a34" stroke-width="0.85"/>
<circle cx="173.5" cy="287.5" r="1.75" fill="#30c88a" stroke="#0c4a34" stroke-width="0.85"/>
<circle cx="177.2" cy="288.1" r="1.75" fill="#30c88a" stroke="#0c4a34" stroke-width="0.85"/>
<circle cx="182.0" cy="288.1" r="1.75" fill="#30c88a" stroke="#0c4a34" stroke-width="0.85"/>
<circle cx="186.8" cy="287.3" r="1.75" fill="#30c88a" stroke="#0c4a34" stroke-width="0.85"/>
<circle cx="191.8" cy="287.3" r="1.75" fill="#30c88a" stroke="#0c4a34" stroke-width="0.85"/>
<circle cx="196.6" cy="287.3" r="1.75" fill="#30c88a" stroke="#0c4a34" stroke-width="0.85"/>
<circle cx="201.4" cy="286.3" r="1.75" fill="#30c88a" stroke="#0c4a34" stroke-width="0.85"/>
<circle cx="206.1" cy="288.2" r="1.75" fill="#30c88a" stroke="#0c4a34" stroke-width="0.85"/>
<circle cx="210.9" cy="287.8" r="1.75" fill="#30c88a" stroke="#0c4a34" stroke-width="0.85"/>
<circle cx="215.9" cy="286.0" r="1.75" fill="#30c88a" stroke="#0c4a34" stroke-width="0.85"/>
<circle cx="220.7" cy="284.9" r="1.75" fill="#30c88a" stroke="#0c4a34" stroke-width="0.85"/>
<circle cx="225.8" cy="283.0" r="1.75" fill="#30c88a" stroke="#0c4a34" stroke-width="0.85"/>
<circle cx="230.4" cy="277.6" r="1.75" fill="#30c88a" stroke="#0c4a34" stroke-width="0.85"/>
<circle cx="235.1" cy="274.6" r="1.75" fill="#30c88a" stroke="#0c4a34" stroke-width="0.85"/>
<circle cx="239.9" cy="282.8" r="1.75" fill="#30c88a" stroke="#0c4a34" stroke-width="0.85"/>
<circle cx="244.7" cy="259.4" r="1.75" fill="#30c88a" stroke="#0c4a34" stroke-width="0.85"/>
<circle cx="247.2" cy="262.7" r="1.75" fill="#30c88a" stroke="#0c4a34" stroke-width="0.85"/>
<circle cx="251.9" cy="251.6" r="1.75" fill="#30c88a" stroke="#0c4a34" stroke-width="0.85"/>
<circle cx="254.4" cy="249.1" r="1.75" fill="#30c88a" stroke="#0c4a34" stroke-width="0.85"/>
<circle cx="259.4" cy="256.9" r="1.75" fill="#30c88a" stroke="#0c4a34" stroke-width="0.85"/>
<circle cx="264.3" cy="253.0" r="1.75" fill="#30c88a" stroke="#0c4a34" stroke-width="0.85"/>
<circle cx="269.0" cy="267.2" r="1.75" fill="#30c88a" stroke="#0c4a34" stroke-width="0.85"/>
<circle cx="273.8" cy="257.9" r="1.75" fill="#30c88a" stroke="#0c4a34" stroke-width="0.85"/>
<circle cx="278.9" cy="251.6" r="1.75" fill="#30c88a" stroke="#0c4a34" stroke-width="0.85"/>
<circle cx="283.4" cy="250.5" r="1.75" fill="#30c88a" stroke="#0c4a34" stroke-width="0.85"/>
<circle cx="288.2" cy="241.4" r="1.75" fill="#30c88a" stroke="#0c4a34" stroke-width="0.85"/>
<circle cx="293.2" cy="235.1" r="1.75" fill="#30c88a" stroke="#0c4a34" stroke-width="0.85"/>
<circle cx="298.0" cy="228.3" r="1.75" fill="#30c88a" stroke="#0c4a34" stroke-width="0.85"/>
<circle cx="303.0" cy="223.8" r="1.75" fill="#30c88a" stroke="#0c4a34" stroke-width="0.85"/>
<circle cx="307.8" cy="226.4" r="1.75" fill="#30c88a" stroke="#0c4a34" stroke-width="0.85"/>
<circle cx="312.6" cy="222.7" r="1.75" fill="#30c88a" stroke="#0c4a34" stroke-width="0.85"/>
<circle cx="317.6" cy="220.1" r="1.75" fill="#30c88a" stroke="#0c4a34" stroke-width="0.85"/>
<circle cx="322.4" cy="224.2" r="1.75" fill="#30c88a" stroke="#0c4a34" stroke-width="0.85"/>
<circle cx="327.2" cy="220.1" r="1.75" fill="#30c88a" stroke="#0c4a34" stroke-width="0.85"/>
<circle cx="332.0" cy="214.0" r="1.75" fill="#30c88a" stroke="#0c4a34" stroke-width="0.85"/>
<circle cx="336.7" cy="209.2" r="1.75" fill="#30c88a" stroke="#0c4a34" stroke-width="0.85"/>
<circle cx="341.5" cy="223.3" r="1.75" fill="#30c88a" stroke="#0c4a34" stroke-width="0.85"/>
<circle cx="346.4" cy="203.0" r="1.75" fill="#30c88a" stroke="#0c4a34" stroke-width="0.85"/>
<circle cx="351.4" cy="211.8" r="1.75" fill="#30c88a" stroke="#0c4a34" stroke-width="0.85"/>
<circle cx="356.2" cy="221.0" r="1.75" fill="#30c88a" stroke="#0c4a34" stroke-width="0.85"/>
<circle cx="361.0" cy="220.1" r="1.75" fill="#30c88a" stroke="#0c4a34" stroke-width="0.85"/>
<circle cx="366.0" cy="211.8" r="1.75" fill="#30c88a" stroke="#0c4a34" stroke-width="0.85"/>
<circle cx="370.8" cy="213.5" r="1.75" fill="#30c88a" stroke="#0c4a34" stroke-width="0.85"/>
<circle cx="375.6" cy="216.2" r="1.75" fill="#30c88a" stroke="#0c4a34" stroke-width="0.85"/>
<circle cx="380.5" cy="253.0" r="1.75" fill="#30c88a" stroke="#0c4a34" stroke-width="0.85"/>
<circle cx="385.4" cy="270.9" r="1.75" fill="#30c88a" stroke="#0c4a34" stroke-width="0.85"/>
<circle cx="390.2" cy="266.5" r="1.75" fill="#30c88a" stroke="#0c4a34" stroke-width="0.85"/>
<circle cx="394.9" cy="267.0" r="1.75" fill="#30c88a" stroke="#0c4a34" stroke-width="0.85"/>
<circle cx="399.7" cy="266.5" r="1.75" fill="#30c88a" stroke="#0c4a34" stroke-width="0.85"/>
<circle cx="404.6" cy="226.1" r="1.75" fill="#30c88a" stroke="#0c4a34" stroke-width="0.85"/>
<circle cx="409.5" cy="224.2" r="1.75" fill="#30c88a" stroke="#0c4a34" stroke-width="0.85"/>
<circle cx="414.3" cy="219.8" r="1.75" fill="#30c88a" stroke="#0c4a34" stroke-width="0.85"/>
<circle cx="419.2" cy="227.8" r="1.75" fill="#30c88a" stroke="#0c4a34" stroke-width="0.85"/>
<circle cx="423.8" cy="243.9" r="1.75" fill="#30c88a" stroke="#0c4a34" stroke-width="0.85"/>
<circle cx="428.7" cy="268.5" r="1.75" fill="#30c88a" stroke="#0c4a34" stroke-width="0.85"/>
<circle cx="433.5" cy="272.8" r="1.75" fill="#30c88a" stroke="#0c4a34" stroke-width="0.85"/>
<circle cx="438.4" cy="265.4" r="1.75" fill="#30c88a" stroke="#0c4a34" stroke-width="0.85"/>
<circle cx="443.2" cy="277.8" r="1.75" fill="#30c88a" stroke="#0c4a34" stroke-width="0.85"/>
<circle cx="448.1" cy="271.5" r="1.75" fill="#30c88a" stroke="#0c4a34" stroke-width="0.85"/>
<circle cx="452.7" cy="271.8" r="1.75" fill="#30c88a" stroke="#0c4a34" stroke-width="0.85"/>
<circle cx="457.8" cy="276.2" r="1.75" fill="#30c88a" stroke="#0c4a34" stroke-width="0.85"/>
<circle cx="462.7" cy="274.9" r="1.75" fill="#30c88a" stroke="#0c4a34" stroke-width="0.85"/>
<circle cx="467.3" cy="252.6" r="1.75" fill="#30c88a" stroke="#0c4a34" stroke-width="0.85"/>
<circle cx="472.2" cy="258.7" r="1.75" fill="#30c88a" stroke="#0c4a34" stroke-width="0.85"/>
<circle cx="477.1" cy="253.3" r="1.75" fill="#30c88a" stroke="#0c4a34" stroke-width="0.85"/>
<circle cx="481.9" cy="265.7" r="1.75" fill="#30c88a" stroke="#0c4a34" stroke-width="0.85"/>
<circle cx="486.8" cy="271.5" r="1.75" fill="#30c88a" stroke="#0c4a34" stroke-width="0.85"/>
<circle cx="491.7" cy="258.7" r="1.75" fill="#30c88a" stroke="#0c4a34" stroke-width="0.85"/>
<circle cx="496.5" cy="256.6" r="1.75" fill="#30c88a" stroke="#0c4a34" stroke-width="0.85"/>
<circle cx="501.2" cy="259.1" r="1.75" fill="#30c88a" stroke="#0c4a34" stroke-width="0.85"/>
<circle cx="506.0" cy="266.0" r="1.75" fill="#30c88a" stroke="#0c4a34" stroke-width="0.85"/>
<circle cx="511.1" cy="270.4" r="1.75" fill="#30c88a" stroke="#0c4a34" stroke-width="0.85"/>
<circle cx="515.8" cy="270.4" r="1.75" fill="#30c88a" stroke="#0c4a34" stroke-width="0.85"/>
<circle cx="520.6" cy="263.9" r="1.75" fill="#30c88a" stroke="#0c4a34" stroke-width="0.85"/>
<circle cx="160.1" cy="273.2" r="1.75" fill="#16b4f0" stroke="#1a3490" stroke-width="0.85"/>
<circle cx="164.9" cy="272.9" r="1.75" fill="#16b4f0" stroke="#1a3490" stroke-width="0.85"/>
<circle cx="169.6" cy="272.9" r="1.75" fill="#16b4f0" stroke="#1a3490" stroke-width="0.85"/>
<circle cx="173.5" cy="272.4" r="1.75" fill="#16b4f0" stroke="#1a3490" stroke-width="0.85"/>
<circle cx="177.2" cy="276.5" r="1.75" fill="#16b4f0" stroke="#1a3490" stroke-width="0.85"/>
<circle cx="182.0" cy="277.8" r="1.75" fill="#16b4f0" stroke="#1a3490" stroke-width="0.85"/>
<circle cx="186.8" cy="275.4" r="1.75" fill="#16b4f0" stroke="#1a3490" stroke-width="0.85"/>
<circle cx="191.8" cy="275.8" r="1.75" fill="#16b4f0" stroke="#1a3490" stroke-width="0.85"/>
<circle cx="196.6" cy="276.8" r="1.75" fill="#16b4f0" stroke="#1a3490" stroke-width="0.85"/>
<circle cx="201.4" cy="280.2" r="1.75" fill="#16b4f0" stroke="#1a3490" stroke-width="0.85"/>
<circle cx="206.1" cy="276.8" r="1.75" fill="#16b4f0" stroke="#1a3490" stroke-width="0.85"/>
<circle cx="210.9" cy="285.1" r="1.75" fill="#16b4f0" stroke="#1a3490" stroke-width="0.85"/>
<circle cx="215.9" cy="284.6" r="1.75" fill="#16b4f0" stroke="#1a3490" stroke-width="0.85"/>
<circle cx="220.7" cy="287.0" r="1.75" fill="#16b4f0" stroke="#1a3490" stroke-width="0.85"/>
<circle cx="225.8" cy="284.7" r="1.75" fill="#16b4f0" stroke="#1a3490" stroke-width="0.85"/>
<circle cx="230.4" cy="275.6" r="1.75" fill="#16b4f0" stroke="#1a3490" stroke-width="0.85"/>
<circle cx="235.1" cy="277.9" r="1.75" fill="#16b4f0" stroke="#1a3490" stroke-width="0.85"/>
<circle cx="239.9" cy="257.8" r="1.75" fill="#16b4f0" stroke="#1a3490" stroke-width="0.85"/>
<circle cx="244.7" cy="260.2" r="1.75" fill="#16b4f0" stroke="#1a3490" stroke-width="0.85"/>
<circle cx="247.2" cy="254.0" r="1.75" fill="#16b4f0" stroke="#1a3490" stroke-width="0.85"/>
<circle cx="254.4" cy="244.1" r="1.75" fill="#16b4f0" stroke="#1a3490" stroke-width="0.85"/>
<circle cx="259.4" cy="263.1" r="1.75" fill="#16b4f0" stroke="#1a3490" stroke-width="0.85"/>
<circle cx="264.3" cy="239.0" r="1.75" fill="#16b4f0" stroke="#1a3490" stroke-width="0.85"/>
<circle cx="269.0" cy="234.9" r="1.75" fill="#16b4f0" stroke="#1a3490" stroke-width="0.85"/>
<circle cx="273.9" cy="227.1" r="1.75" fill="#16b4f0" stroke="#1a3490" stroke-width="0.85"/>
<circle cx="278.9" cy="240.0" r="1.75" fill="#16b4f0" stroke="#1a3490" stroke-width="0.85"/>
<circle cx="283.4" cy="228.9" r="1.75" fill="#16b4f0" stroke="#1a3490" stroke-width="0.85"/>
<circle cx="288.2" cy="226.4" r="1.75" fill="#16b4f0" stroke="#1a3490" stroke-width="0.85"/>
<circle cx="293.2" cy="216.9" r="1.75" fill="#16b4f0" stroke="#1a3490" stroke-width="0.85"/>
<circle cx="298.0" cy="227.4" r="1.75" fill="#16b4f0" stroke="#1a3490" stroke-width="0.85"/>
<circle cx="303.0" cy="228.9" r="1.75" fill="#16b4f0" stroke="#1a3490" stroke-width="0.85"/>
<circle cx="307.8" cy="229.7" r="1.75" fill="#16b4f0" stroke="#1a3490" stroke-width="0.85"/>
<circle cx="312.6" cy="226.0" r="1.75" fill="#16b4f0" stroke="#1a3490" stroke-width="0.85"/>
<circle cx="317.6" cy="226.0" r="1.75" fill="#16b4f0" stroke="#1a3490" stroke-width="0.85"/>
<circle cx="322.4" cy="233.2" r="1.75" fill="#16b4f0" stroke="#1a3490" stroke-width="0.85"/>
<circle cx="327.2" cy="214.7" r="1.75" fill="#16b4f0" stroke="#1a3490" stroke-width="0.85"/>
<circle cx="332.0" cy="218.1" r="1.75" fill="#16b4f0" stroke="#1a3490" stroke-width="0.85"/>
<circle cx="336.8" cy="216.0" r="1.75" fill="#16b4f0" stroke="#1a3490" stroke-width="0.85"/>
<circle cx="341.6" cy="219.1" r="1.75" fill="#16b4f0" stroke="#1a3490" stroke-width="0.85"/>
<circle cx="346.4" cy="225.2" r="1.75" fill="#16b4f0" stroke="#1a3490" stroke-width="0.85"/>
<circle cx="351.4" cy="220.1" r="1.75" fill="#16b4f0" stroke="#1a3490" stroke-width="0.85"/>
<circle cx="356.2" cy="226.7" r="1.75" fill="#16b4f0" stroke="#1a3490" stroke-width="0.85"/>
<circle cx="361.0" cy="222.0" r="1.75" fill="#16b4f0" stroke="#1a3490" stroke-width="0.85"/>
<circle cx="366.0" cy="221.7" r="1.75" fill="#16b4f0" stroke="#1a3490" stroke-width="0.85"/>
<circle cx="370.8" cy="229.3" r="1.75" fill="#16b4f0" stroke="#1a3490" stroke-width="0.85"/>
<circle cx="375.6" cy="234.1" r="1.75" fill="#16b4f0" stroke="#1a3490" stroke-width="0.85"/>
<circle cx="380.5" cy="245.8" r="1.75" fill="#16b4f0" stroke="#1a3490" stroke-width="0.85"/>
<circle cx="385.4" cy="247.1" r="1.75" fill="#16b4f0" stroke="#1a3490" stroke-width="0.85"/>
<circle cx="390.2" cy="248.0" r="1.75" fill="#16b4f0" stroke="#1a3490" stroke-width="0.85"/>
<circle cx="394.9" cy="245.1" r="1.75" fill="#16b4f0" stroke="#1a3490" stroke-width="0.85"/>
<circle cx="399.7" cy="243.2" r="1.75" fill="#16b4f0" stroke="#1a3490" stroke-width="0.85"/>
<circle cx="404.6" cy="227.8" r="1.75" fill="#16b4f0" stroke="#1a3490" stroke-width="0.85"/>
<circle cx="409.5" cy="228.3" r="1.75" fill="#16b4f0" stroke="#1a3490" stroke-width="0.85"/>
<circle cx="414.3" cy="231.1" r="1.75" fill="#16b4f0" stroke="#1a3490" stroke-width="0.85"/>
<circle cx="419.2" cy="226.4" r="1.75" fill="#16b4f0" stroke="#1a3490" stroke-width="0.85"/>
<circle cx="423.8" cy="246.5" r="1.75" fill="#16b4f0" stroke="#1a3490" stroke-width="0.85"/>
<circle cx="428.7" cy="257.0" r="1.75" fill="#16b4f0" stroke="#1a3490" stroke-width="0.85"/>
<circle cx="433.5" cy="262.4" r="1.75" fill="#16b4f0" stroke="#1a3490" stroke-width="0.85"/>
<circle cx="438.4" cy="262.0" r="1.75" fill="#16b4f0" stroke="#1a3490" stroke-width="0.85"/>
<circle cx="443.2" cy="260.6" r="1.75" fill="#16b4f0" stroke="#1a3490" stroke-width="0.85"/>
<circle cx="448.1" cy="269.8" r="1.75" fill="#16b4f0" stroke="#1a3490" stroke-width="0.85"/>
<circle cx="452.7" cy="267.4" r="1.75" fill="#16b4f0" stroke="#1a3490" stroke-width="0.85"/>
<circle cx="457.8" cy="275.9" r="1.75" fill="#16b4f0" stroke="#1a3490" stroke-width="0.85"/>
<circle cx="462.7" cy="278.8" r="1.75" fill="#16b4f0" stroke="#1a3490" stroke-width="0.85"/>
<circle cx="467.3" cy="267.9" r="1.75" fill="#16b4f0" stroke="#1a3490" stroke-width="0.85"/>
<circle cx="472.2" cy="263.9" r="1.75" fill="#16b4f0" stroke="#1a3490" stroke-width="0.85"/>
<circle cx="477.1" cy="249.3" r="1.75" fill="#16b4f0" stroke="#1a3490" stroke-width="0.85"/>
<circle cx="481.9" cy="259.1" r="1.75" fill="#16b4f0" stroke="#1a3490" stroke-width="0.85"/>
<circle cx="486.8" cy="258.7" r="1.75" fill="#16b4f0" stroke="#1a3490" stroke-width="0.85"/>
<circle cx="491.7" cy="243.1" r="1.75" fill="#16b4f0" stroke="#1a3490" stroke-width="0.85"/>
<circle cx="496.5" cy="264.2" r="1.75" fill="#16b4f0" stroke="#1a3490" stroke-width="0.85"/>
<circle cx="501.2" cy="256.2" r="1.75" fill="#16b4f0" stroke="#1a3490" stroke-width="0.85"/>
<circle cx="506.0" cy="252.3" r="1.75" fill="#16b4f0" stroke="#1a3490" stroke-width="0.85"/>
<circle cx="511.1" cy="250.4" r="1.75" fill="#16b4f0" stroke="#1a3490" stroke-width="0.85"/>
<circle cx="515.8" cy="256.6" r="1.75" fill="#16b4f0" stroke="#1a3490" stroke-width="0.85"/>
<circle cx="520.6" cy="266.9" r="1.75" fill="#16b4f0" stroke="#1a3490" stroke-width="0.85"/>
<text x="161.4" y="221.5" font-size="14" fill="#000" text-anchor="start" font-weight="bold" >c</text>
<text x="160.6" y="265.1" font-size="14" fill="#000" text-anchor="start" font-weight="bold" >d</text>
<line x1="550.2" y1="205.7" x2="550.2" y2="294.8" stroke="#111" stroke-width="1.4" />
<line x1="543.1" y1="294.8" x2="550.2" y2="294.8" stroke="#111" stroke-width="1.45" />
<text x="537.9" y="299.6" font-size="11" fill="#22c4f4" text-anchor="end" font-weight="normal" >0</text>
<line x1="543.1" y1="265.1" x2="550.2" y2="265.1" stroke="#111" stroke-width="1.45" />
<text x="537.9" y="269.90000000000003" font-size="11" fill="#22c4f4" text-anchor="end" font-weight="normal" >10</text>
<line x1="543.1" y1="235.4" x2="550.2" y2="235.4" stroke="#111" stroke-width="1.45" />
<text x="537.9" y="240.20000000000002" font-size="11" fill="#22c4f4" text-anchor="end" font-weight="normal" >20</text>
<line x1="543.1" y1="205.7" x2="550.2" y2="205.7" stroke="#111" stroke-width="1.45" />
<text x="537.9" y="210.5" font-size="11" fill="#22c4f4" text-anchor="end" font-weight="normal" >30</text>
<line x1="550.2" y1="294.8" x2="556.8" y2="294.8" stroke="#111" stroke-width="1.45" />
<text x="562.8" y="299.6" font-size="11" fill="#44cc99" text-anchor="start" font-weight="normal" >0</text>
<line x1="550.2" y1="272.525" x2="556.8" y2="272.525" stroke="#111" stroke-width="1.45" />
<text x="562.8" y="277.325" font-size="11" fill="#44cc99" text-anchor="start" font-weight="normal" >20</text>
<line x1="550.2" y1="250.25" x2="556.8" y2="250.25" stroke="#111" stroke-width="1.45" />
<text x="562.8" y="255.05" font-size="11" fill="#44cc99" text-anchor="start" font-weight="normal" >40</text>
<line x1="550.2" y1="227.975" x2="556.8" y2="227.975" stroke="#111" stroke-width="1.45" />
<text x="562.8" y="232.775" font-size="11" fill="#44cc99" text-anchor="start" font-weight="normal" >60</text>
<line x1="550.2" y1="205.7" x2="556.8" y2="205.7" stroke="#111" stroke-width="1.45" />
<text x="562.8" y="210.5" font-size="11" fill="#44cc99" text-anchor="start" font-weight="normal" >80</text>
<text transform="translate(592.8,250.3) rotate(-90)" font-size="15.5" text-anchor="middle" fill="#22c4f4">MeC<tspan font-size="9.5" dy="3.5">37:4</tspan><tspan dy="-3.5" fill="#000"> (%)</tspan></text>
<text transform="translate(614,250.3) rotate(-90)" font-size="15.5" text-anchor="middle" fill="#44cc99">MeC<tspan font-size="9.5" dy="3.5">38:4</tspan><tspan dy="-3.5" fill="#000"> (%)</tspan></text>
<line x1="632.3" y1="202.5" x2="632.3" y2="289.8" stroke="#000" stroke-width="2.5"/>
<polyline points="622.4,214.3 632.3,203.3 642.1999999999999,214.3" fill="none" stroke="#000" stroke-width="2.5" stroke-linejoin="miter" stroke-miterlimit="10"/>
<text transform="translate(662.4,248.2) rotate(-90)" font-size="15.6" fill="#000" text-anchor="middle" font-weight="normal">Freshwater</text>
<text transform="translate(680.6,248.4) rotate(-90)" font-size="15.6" fill="#000" text-anchor="middle" font-weight="normal">influence</text>
<polyline points="160.1,329.1 164.9,366.6 169.9,358.6 173.5,372.2 177.2,374.7 182.0,360.1 186.8,353.5 191.8,298.0 196.6,335.0 201.3,316.0 206.1,366.2 210.9,356.9 215.9,364.9 220.7,371.5 225.5,346.6 230.5,347.2 235.0,357.4 240.0,378.0 244.8,345.5 247.2,345.5 252.0,360.4 254.5,354.2 259.3,378.8 264.0,384.2 268.8,383.4 273.9,372.9 278.9,365.6 283.4,371.0 288.4,320.2 293.2,370.3 298.0,379.3 303.0,378.6 307.8,378.3 312.6,366.2 317.6,362.7 322.4,365.9 327.2,371.8 332.0,373.6 336.7,371.8 341.5,369.6 346.4,366.6 351.4,372.9 356.2,377.2 361.0,372.2 365.7,362.0 370.5,361.1 375.6,356.4 380.3,377.6 385.1,366.6 390.0,365.2 394.9,352.8 399.7,373.6 404.5,316.0 409.2,357.6 414.0,365.9 418.9,353.8 423.8,379.0 428.7,384.2 433.5,385.2 438.4,385.1 443.2,385.3 448.1,385.1 452.7,384.8 457.8,385.8 462.7,385.3 467.3,385.1 472.2,383.1 477.1,384.4 481.9,384.4 486.8,384.5 491.7,380.4 496.5,381.9 501.2,383.1 506.0,385.1 511.1,382.9" fill="none" stroke="#d99ad9" stroke-width="1.25" stroke-linejoin="round"/>
<circle cx="160.1" cy="329.1" r="1.65" fill="#f0d0f0" stroke="#a838b0" stroke-width="1.05"/>
<circle cx="164.9" cy="366.6" r="1.65" fill="#f0d0f0" stroke="#a838b0" stroke-width="1.05"/>
<circle cx="169.9" cy="358.6" r="1.65" fill="#f0d0f0" stroke="#a838b0" stroke-width="1.05"/>
<circle cx="173.5" cy="372.2" r="1.65" fill="#f0d0f0" stroke="#a838b0" stroke-width="1.05"/>
<circle cx="177.2" cy="374.7" r="1.65" fill="#f0d0f0" stroke="#a838b0" stroke-width="1.05"/>
<circle cx="182.0" cy="360.1" r="1.65" fill="#f0d0f0" stroke="#a838b0" stroke-width="1.05"/>
<circle cx="186.8" cy="353.5" r="1.65" fill="#f0d0f0" stroke="#a838b0" stroke-width="1.05"/>
<circle cx="191.8" cy="298.0" r="1.65" fill="#f0d0f0" stroke="#a838b0" stroke-width="1.05"/>
<circle cx="196.6" cy="335.0" r="1.65" fill="#f0d0f0" stroke="#a838b0" stroke-width="1.05"/>
<circle cx="201.3" cy="316.0" r="1.65" fill="#f0d0f0" stroke="#a838b0" stroke-width="1.05"/>
<circle cx="206.1" cy="366.2" r="1.65" fill="#f0d0f0" stroke="#a838b0" stroke-width="1.05"/>
<circle cx="210.9" cy="356.9" r="1.65" fill="#f0d0f0" stroke="#a838b0" stroke-width="1.05"/>
<circle cx="215.9" cy="364.9" r="1.65" fill="#f0d0f0" stroke="#a838b0" stroke-width="1.05"/>
<circle cx="220.7" cy="371.5" r="1.65" fill="#f0d0f0" stroke="#a838b0" stroke-width="1.05"/>
<circle cx="225.5" cy="346.6" r="1.65" fill="#f0d0f0" stroke="#a838b0" stroke-width="1.05"/>
<circle cx="230.5" cy="347.2" r="1.65" fill="#f0d0f0" stroke="#a838b0" stroke-width="1.05"/>
<circle cx="235.0" cy="357.4" r="1.65" fill="#f0d0f0" stroke="#a838b0" stroke-width="1.05"/>
<circle cx="240.0" cy="378.0" r="1.65" fill="#f0d0f0" stroke="#a838b0" stroke-width="1.05"/>
<circle cx="244.8" cy="345.5" r="1.65" fill="#f0d0f0" stroke="#a838b0" stroke-width="1.05"/>
<circle cx="247.2" cy="345.5" r="1.65" fill="#f0d0f0" stroke="#a838b0" stroke-width="1.05"/>
<circle cx="252.0" cy="360.4" r="1.65" fill="#f0d0f0" stroke="#a838b0" stroke-width="1.05"/>
<circle cx="254.5" cy="354.2" r="1.65" fill="#f0d0f0" stroke="#a838b0" stroke-width="1.05"/>
<circle cx="259.3" cy="378.8" r="1.65" fill="#f0d0f0" stroke="#a838b0" stroke-width="1.05"/>
<circle cx="264.0" cy="384.2" r="1.65" fill="#f0d0f0" stroke="#a838b0" stroke-width="1.05"/>
<circle cx="268.8" cy="383.4" r="1.65" fill="#f0d0f0" stroke="#a838b0" stroke-width="1.05"/>
<circle cx="273.9" cy="372.9" r="1.65" fill="#f0d0f0" stroke="#a838b0" stroke-width="1.05"/>
<circle cx="278.9" cy="365.6" r="1.65" fill="#f0d0f0" stroke="#a838b0" stroke-width="1.05"/>
<circle cx="283.4" cy="371.0" r="1.65" fill="#f0d0f0" stroke="#a838b0" stroke-width="1.05"/>
<circle cx="288.4" cy="320.2" r="1.65" fill="#f0d0f0" stroke="#a838b0" stroke-width="1.05"/>
<circle cx="293.2" cy="370.3" r="1.65" fill="#f0d0f0" stroke="#a838b0" stroke-width="1.05"/>
<circle cx="298.0" cy="379.3" r="1.65" fill="#f0d0f0" stroke="#a838b0" stroke-width="1.05"/>
<circle cx="303.0" cy="378.6" r="1.65" fill="#f0d0f0" stroke="#a838b0" stroke-width="1.05"/>
<circle cx="307.8" cy="378.3" r="1.65" fill="#f0d0f0" stroke="#a838b0" stroke-width="1.05"/>
<circle cx="312.6" cy="366.2" r="1.65" fill="#f0d0f0" stroke="#a838b0" stroke-width="1.05"/>
<circle cx="317.6" cy="362.7" r="1.65" fill="#f0d0f0" stroke="#a838b0" stroke-width="1.05"/>
<circle cx="322.4" cy="365.9" r="1.65" fill="#f0d0f0" stroke="#a838b0" stroke-width="1.05"/>
<circle cx="327.2" cy="371.8" r="1.65" fill="#f0d0f0" stroke="#a838b0" stroke-width="1.05"/>
<circle cx="332.0" cy="373.6" r="1.65" fill="#f0d0f0" stroke="#a838b0" stroke-width="1.05"/>
<circle cx="336.7" cy="371.8" r="1.65" fill="#f0d0f0" stroke="#a838b0" stroke-width="1.05"/>
<circle cx="341.5" cy="369.6" r="1.65" fill="#f0d0f0" stroke="#a838b0" stroke-width="1.05"/>
<circle cx="346.4" cy="366.6" r="1.65" fill="#f0d0f0" stroke="#a838b0" stroke-width="1.05"/>
<circle cx="351.4" cy="372.9" r="1.65" fill="#f0d0f0" stroke="#a838b0" stroke-width="1.05"/>
<circle cx="356.2" cy="377.2" r="1.65" fill="#f0d0f0" stroke="#a838b0" stroke-width="1.05"/>
<circle cx="361.0" cy="372.2" r="1.65" fill="#f0d0f0" stroke="#a838b0" stroke-width="1.05"/>
<circle cx="365.7" cy="362.0" r="1.65" fill="#f0d0f0" stroke="#a838b0" stroke-width="1.05"/>
<circle cx="370.5" cy="361.1" r="1.65" fill="#f0d0f0" stroke="#a838b0" stroke-width="1.05"/>
<circle cx="375.6" cy="356.4" r="1.65" fill="#f0d0f0" stroke="#a838b0" stroke-width="1.05"/>
<circle cx="380.3" cy="377.6" r="1.65" fill="#f0d0f0" stroke="#a838b0" stroke-width="1.05"/>
<circle cx="385.1" cy="366.6" r="1.65" fill="#f0d0f0" stroke="#a838b0" stroke-width="1.05"/>
<circle cx="390.0" cy="365.2" r="1.65" fill="#f0d0f0" stroke="#a838b0" stroke-width="1.05"/>
<circle cx="394.9" cy="352.8" r="1.65" fill="#f0d0f0" stroke="#a838b0" stroke-width="1.05"/>
<circle cx="399.7" cy="373.6" r="1.65" fill="#f0d0f0" stroke="#a838b0" stroke-width="1.05"/>
<circle cx="404.5" cy="316.0" r="1.65" fill="#f0d0f0" stroke="#a838b0" stroke-width="1.05"/>
<circle cx="409.2" cy="357.6" r="1.65" fill="#f0d0f0" stroke="#a838b0" stroke-width="1.05"/>
<circle cx="414.0" cy="365.9" r="1.65" fill="#f0d0f0" stroke="#a838b0" stroke-width="1.05"/>
<circle cx="418.9" cy="353.8" r="1.65" fill="#f0d0f0" stroke="#a838b0" stroke-width="1.05"/>
<circle cx="423.8" cy="379.0" r="1.65" fill="#f0d0f0" stroke="#a838b0" stroke-width="1.05"/>
<circle cx="428.7" cy="384.2" r="1.65" fill="#f0d0f0" stroke="#a838b0" stroke-width="1.05"/>
<circle cx="433.5" cy="385.2" r="1.65" fill="#f0d0f0" stroke="#a838b0" stroke-width="1.05"/>
<circle cx="438.4" cy="385.1" r="1.65" fill="#f0d0f0" stroke="#a838b0" stroke-width="1.05"/>
<circle cx="443.2" cy="385.3" r="1.65" fill="#f0d0f0" stroke="#a838b0" stroke-width="1.05"/>
<circle cx="448.1" cy="385.1" r="1.65" fill="#f0d0f0" stroke="#a838b0" stroke-width="1.05"/>
<circle cx="452.7" cy="384.8" r="1.65" fill="#f0d0f0" stroke="#a838b0" stroke-width="1.05"/>
<circle cx="457.8" cy="385.8" r="1.65" fill="#f0d0f0" stroke="#a838b0" stroke-width="1.05"/>
<circle cx="462.7" cy="385.3" r="1.65" fill="#f0d0f0" stroke="#a838b0" stroke-width="1.05"/>
<circle cx="467.3" cy="385.1" r="1.65" fill="#f0d0f0" stroke="#a838b0" stroke-width="1.05"/>
<circle cx="472.2" cy="383.1" r="1.65" fill="#f0d0f0" stroke="#a838b0" stroke-width="1.05"/>
<circle cx="477.1" cy="384.4" r="1.65" fill="#f0d0f0" stroke="#a838b0" stroke-width="1.05"/>
<circle cx="481.9" cy="384.4" r="1.65" fill="#f0d0f0" stroke="#a838b0" stroke-width="1.05"/>
<circle cx="486.8" cy="384.5" r="1.65" fill="#f0d0f0" stroke="#a838b0" stroke-width="1.05"/>
<circle cx="491.7" cy="380.4" r="1.65" fill="#f0d0f0" stroke="#a838b0" stroke-width="1.05"/>
<circle cx="496.5" cy="381.9" r="1.65" fill="#f0d0f0" stroke="#a838b0" stroke-width="1.05"/>
<circle cx="501.2" cy="383.1" r="1.65" fill="#f0d0f0" stroke="#a838b0" stroke-width="1.05"/>
<circle cx="506.0" cy="385.1" r="1.65" fill="#f0d0f0" stroke="#a838b0" stroke-width="1.05"/>
<circle cx="511.1" cy="382.9" r="1.65" fill="#f0d0f0" stroke="#a838b0" stroke-width="1.05"/>
<line x1="154.4" y1="289.9" x2="154.4" y2="385.4" stroke="#111" stroke-width="1.4" />
<line x1="147.7" y1="385.4" x2="154.4" y2="385.4" stroke="#111" stroke-width="1.45" />
<text x="141.6" y="390.2" font-size="11" fill="#d9a3dc" text-anchor="end" font-weight="normal" >0</text>
<line x1="147.7" y1="366.29999999999995" x2="154.4" y2="366.29999999999995" stroke="#111" stroke-width="1.45" />
<text x="141.6" y="371.09999999999997" font-size="11" fill="#d9a3dc" text-anchor="end" font-weight="normal" >40</text>
<line x1="147.7" y1="347.2" x2="154.4" y2="347.2" stroke="#111" stroke-width="1.45" />
<text x="141.6" y="352.0" font-size="11" fill="#d9a3dc" text-anchor="end" font-weight="normal" >80</text>
<line x1="147.7" y1="328.09999999999997" x2="154.4" y2="328.09999999999997" stroke="#111" stroke-width="1.45" />
<text x="141.6" y="332.9" font-size="11" fill="#d9a3dc" text-anchor="end" font-weight="normal" >120</text>
<line x1="147.7" y1="309.0" x2="154.4" y2="309.0" stroke="#111" stroke-width="1.45" />
<text x="141.6" y="313.8" font-size="11" fill="#d9a3dc" text-anchor="end" font-weight="normal" >160</text>
<line x1="147.7" y1="289.9" x2="154.4" y2="289.9" stroke="#111" stroke-width="1.45" />
<text x="141.6" y="294.7" font-size="11" fill="#d9a3dc" text-anchor="end" font-weight="normal" >200</text>
<text transform="translate(99.3,338.3) rotate(-90)" font-size="15.85" fill="#000" text-anchor="middle" font-weight="normal">Brassicasterol</text>
<text transform="translate(114.5,338.9) rotate(-90)" font-size="16.2" fill="#000" text-anchor="middle" font-weight="normal">(µg/g OC)</text>
<text x="160.1" y="306.8" font-size="14" fill="#000" text-anchor="start" font-weight="bold" >e</text>
<text x="161.2" y="387.1" font-size="14" fill="#000" text-anchor="start" font-weight="bold" >f</text>
<text transform="translate(12.4,334.4) rotate(-90)" font-size="15.9" fill="#000" text-anchor="middle" font-weight="normal">Primary</text>
<text transform="translate(32.3,333.6) rotate(-90)" font-size="15.9" fill="#000" text-anchor="middle" font-weight="normal">productivity</text>
<line x1="53.4" y1="290.9" x2="53.4" y2="378" stroke="#000" stroke-width="2.5"/>
<polyline points="43.5,302.7 53.4,291.7 63.3,302.7" fill="none" stroke="#000" stroke-width="2.5" stroke-linejoin="miter" stroke-miterlimit="10"/>
<polyline points="160.1,442.6 164.9,446.0 169.6,442.6 173.5,441.6 177.2,442.0 182.0,446.4 186.8,434.7 191.8,435.5 196.6,447.4 201.4,443.8 206.1,445.3 210.9,445.3 215.9,440.9 220.7,442.3 225.5,440.1 230.5,449.6 235.0,453.3 240.0,447.9 244.8,441.6 247.3,443.8 252.0,428.8 254.5,433.8 259.3,441.8 264.0,451.0 268.8,450.0 273.9,432.8 278.9,438.3 283.4,445.2 288.4,438.6 293.2,441.8 298.0,437.4 303.0,439.8 307.8,439.3 312.6,439.8 317.6,444.0 322.4,441.5 327.2,440.1 332.0,441.8 336.7,446.2 341.5,443.0 346.4,450.0 351.4,446.9 356.2,439.3 361.0,449.6 365.7,447.8 370.5,450.3 375.6,445.9 380.3,434.7 385.1,413.5 390.0,397.7 394.9,384.9 399.7,417.9 404.5,438.6 409.2,438.6 414.0,444.9 418.9,436.9 423.8,441.1 428.7,448.1 433.5,454.7 438.4,454.7 443.2,454.7 448.1,454.7 452.7,454.7 457.8,454.7 462.7,454.7 467.3,454.7 472.2,454.7 477.1,454.7 481.9,454.7 486.8,439.7 491.7,446.7 496.5,438.7 501.2,454.7 506.0,450.7 511.1,454.7 515.8,454.7 520.6,449.2" fill="none" stroke="#808080" stroke-width="1.15" stroke-linejoin="round"/>
<circle cx="160.1" cy="442.6" r="1.8" fill="#9a9a9a" stroke="#3c3c3c" stroke-width="0.9"/>
<circle cx="164.9" cy="446.0" r="1.8" fill="#9a9a9a" stroke="#3c3c3c" stroke-width="0.9"/>
<circle cx="169.6" cy="442.6" r="1.8" fill="#9a9a9a" stroke="#3c3c3c" stroke-width="0.9"/>
<circle cx="173.5" cy="441.6" r="1.8" fill="#9a9a9a" stroke="#3c3c3c" stroke-width="0.9"/>
<circle cx="177.2" cy="442.0" r="1.8" fill="#9a9a9a" stroke="#3c3c3c" stroke-width="0.9"/>
<circle cx="182.0" cy="446.4" r="1.8" fill="#9a9a9a" stroke="#3c3c3c" stroke-width="0.9"/>
<circle cx="186.8" cy="434.7" r="1.8" fill="#9a9a9a" stroke="#3c3c3c" stroke-width="0.9"/>
<circle cx="191.8" cy="435.5" r="1.8" fill="#9a9a9a" stroke="#3c3c3c" stroke-width="0.9"/>
<circle cx="196.6" cy="447.4" r="1.8" fill="#9a9a9a" stroke="#3c3c3c" stroke-width="0.9"/>
<circle cx="201.4" cy="443.8" r="1.8" fill="#9a9a9a" stroke="#3c3c3c" stroke-width="0.9"/>
<circle cx="206.1" cy="445.3" r="1.8" fill="#9a9a9a" stroke="#3c3c3c" stroke-width="0.9"/>
<circle cx="210.9" cy="445.3" r="1.8" fill="#9a9a9a" stroke="#3c3c3c" stroke-width="0.9"/>
<circle cx="215.9" cy="440.9" r="1.8" fill="#9a9a9a" stroke="#3c3c3c" stroke-width="0.9"/>
<circle cx="220.7" cy="442.3" r="1.8" fill="#9a9a9a" stroke="#3c3c3c" stroke-width="0.9"/>
<circle cx="225.5" cy="440.1" r="1.8" fill="#9a9a9a" stroke="#3c3c3c" stroke-width="0.9"/>
<circle cx="230.5" cy="449.6" r="1.8" fill="#9a9a9a" stroke="#3c3c3c" stroke-width="0.9"/>
<circle cx="235.0" cy="453.3" r="1.8" fill="#9a9a9a" stroke="#3c3c3c" stroke-width="0.9"/>
<circle cx="240.0" cy="447.9" r="1.8" fill="#9a9a9a" stroke="#3c3c3c" stroke-width="0.9"/>
<circle cx="244.8" cy="441.6" r="1.8" fill="#9a9a9a" stroke="#3c3c3c" stroke-width="0.9"/>
<circle cx="247.3" cy="443.8" r="1.8" fill="#9a9a9a" stroke="#3c3c3c" stroke-width="0.9"/>
<circle cx="252.0" cy="428.8" r="1.8" fill="#9a9a9a" stroke="#3c3c3c" stroke-width="0.9"/>
<circle cx="254.5" cy="433.8" r="1.8" fill="#9a9a9a" stroke="#3c3c3c" stroke-width="0.9"/>
<circle cx="259.3" cy="441.8" r="1.8" fill="#9a9a9a" stroke="#3c3c3c" stroke-width="0.9"/>
<circle cx="264.0" cy="451.0" r="1.8" fill="#9a9a9a" stroke="#3c3c3c" stroke-width="0.9"/>
<circle cx="268.8" cy="450.0" r="1.8" fill="#9a9a9a" stroke="#3c3c3c" stroke-width="0.9"/>
<circle cx="273.9" cy="432.8" r="1.8" fill="#9a9a9a" stroke="#3c3c3c" stroke-width="0.9"/>
<circle cx="278.9" cy="438.3" r="1.8" fill="#9a9a9a" stroke="#3c3c3c" stroke-width="0.9"/>
<circle cx="283.4" cy="445.2" r="1.8" fill="#9a9a9a" stroke="#3c3c3c" stroke-width="0.9"/>
<circle cx="288.4" cy="438.6" r="1.8" fill="#9a9a9a" stroke="#3c3c3c" stroke-width="0.9"/>
<circle cx="293.2" cy="441.8" r="1.8" fill="#9a9a9a" stroke="#3c3c3c" stroke-width="0.9"/>
<circle cx="298.0" cy="437.4" r="1.8" fill="#9a9a9a" stroke="#3c3c3c" stroke-width="0.9"/>
<circle cx="303.0" cy="439.8" r="1.8" fill="#9a9a9a" stroke="#3c3c3c" stroke-width="0.9"/>
<circle cx="307.8" cy="439.3" r="1.8" fill="#9a9a9a" stroke="#3c3c3c" stroke-width="0.9"/>
<circle cx="312.6" cy="439.8" r="1.8" fill="#9a9a9a" stroke="#3c3c3c" stroke-width="0.9"/>
<circle cx="317.6" cy="444.0" r="1.8" fill="#9a9a9a" stroke="#3c3c3c" stroke-width="0.9"/>
<circle cx="322.4" cy="441.5" r="1.8" fill="#9a9a9a" stroke="#3c3c3c" stroke-width="0.9"/>
<circle cx="327.2" cy="440.1" r="1.8" fill="#9a9a9a" stroke="#3c3c3c" stroke-width="0.9"/>
<circle cx="332.0" cy="441.8" r="1.8" fill="#9a9a9a" stroke="#3c3c3c" stroke-width="0.9"/>
<circle cx="336.7" cy="446.2" r="1.8" fill="#9a9a9a" stroke="#3c3c3c" stroke-width="0.9"/>
<circle cx="341.5" cy="443.0" r="1.8" fill="#9a9a9a" stroke="#3c3c3c" stroke-width="0.9"/>
<circle cx="346.4" cy="450.0" r="1.8" fill="#9a9a9a" stroke="#3c3c3c" stroke-width="0.9"/>
<circle cx="351.4" cy="446.9" r="1.8" fill="#9a9a9a" stroke="#3c3c3c" stroke-width="0.9"/>
<circle cx="356.2" cy="439.3" r="1.8" fill="#9a9a9a" stroke="#3c3c3c" stroke-width="0.9"/>
<circle cx="361.0" cy="449.6" r="1.8" fill="#9a9a9a" stroke="#3c3c3c" stroke-width="0.9"/>
<circle cx="365.7" cy="447.8" r="1.8" fill="#9a9a9a" stroke="#3c3c3c" stroke-width="0.9"/>
<circle cx="370.5" cy="450.3" r="1.8" fill="#9a9a9a" stroke="#3c3c3c" stroke-width="0.9"/>
<circle cx="375.6" cy="445.9" r="1.8" fill="#9a9a9a" stroke="#3c3c3c" stroke-width="0.9"/>
<circle cx="380.3" cy="434.7" r="1.8" fill="#9a9a9a" stroke="#3c3c3c" stroke-width="0.9"/>
<circle cx="385.1" cy="413.5" r="1.8" fill="#9a9a9a" stroke="#3c3c3c" stroke-width="0.9"/>
<circle cx="390.0" cy="397.7" r="1.8" fill="#9a9a9a" stroke="#3c3c3c" stroke-width="0.9"/>
<circle cx="394.9" cy="384.9" r="1.8" fill="#9a9a9a" stroke="#3c3c3c" stroke-width="0.9"/>
<circle cx="399.7" cy="417.9" r="1.8" fill="#9a9a9a" stroke="#3c3c3c" stroke-width="0.9"/>
<circle cx="404.5" cy="438.6" r="1.8" fill="#9a9a9a" stroke="#3c3c3c" stroke-width="0.9"/>
<circle cx="409.2" cy="438.6" r="1.8" fill="#9a9a9a" stroke="#3c3c3c" stroke-width="0.9"/>
<circle cx="414.0" cy="444.9" r="1.8" fill="#9a9a9a" stroke="#3c3c3c" stroke-width="0.9"/>
<circle cx="418.9" cy="436.9" r="1.8" fill="#9a9a9a" stroke="#3c3c3c" stroke-width="0.9"/>
<circle cx="423.8" cy="441.1" r="1.8" fill="#9a9a9a" stroke="#3c3c3c" stroke-width="0.9"/>
<circle cx="428.7" cy="448.1" r="1.8" fill="#9a9a9a" stroke="#3c3c3c" stroke-width="0.9"/>
<circle cx="433.5" cy="454.7" r="1.8" fill="#9a9a9a" stroke="#3c3c3c" stroke-width="0.9"/>
<circle cx="438.4" cy="454.7" r="1.8" fill="#9a9a9a" stroke="#3c3c3c" stroke-width="0.9"/>
<circle cx="443.2" cy="454.7" r="1.8" fill="#9a9a9a" stroke="#3c3c3c" stroke-width="0.9"/>
<circle cx="448.1" cy="454.7" r="1.8" fill="#9a9a9a" stroke="#3c3c3c" stroke-width="0.9"/>
<circle cx="452.7" cy="454.7" r="1.8" fill="#9a9a9a" stroke="#3c3c3c" stroke-width="0.9"/>
<circle cx="457.8" cy="454.7" r="1.8" fill="#9a9a9a" stroke="#3c3c3c" stroke-width="0.9"/>
<circle cx="462.7" cy="454.7" r="1.8" fill="#9a9a9a" stroke="#3c3c3c" stroke-width="0.9"/>
<circle cx="467.3" cy="454.7" r="1.8" fill="#9a9a9a" stroke="#3c3c3c" stroke-width="0.9"/>
<circle cx="472.2" cy="454.7" r="1.8" fill="#9a9a9a" stroke="#3c3c3c" stroke-width="0.9"/>
<circle cx="477.1" cy="454.7" r="1.8" fill="#9a9a9a" stroke="#3c3c3c" stroke-width="0.9"/>
<circle cx="481.9" cy="454.7" r="1.8" fill="#9a9a9a" stroke="#3c3c3c" stroke-width="0.9"/>
<circle cx="486.8" cy="439.7" r="1.8" fill="#9a9a9a" stroke="#3c3c3c" stroke-width="0.9"/>
<circle cx="491.7" cy="446.7" r="1.8" fill="#9a9a9a" stroke="#3c3c3c" stroke-width="0.9"/>
<circle cx="496.5" cy="438.7" r="1.8" fill="#9a9a9a" stroke="#3c3c3c" stroke-width="0.9"/>
<circle cx="501.2" cy="454.7" r="1.8" fill="#9a9a9a" stroke="#3c3c3c" stroke-width="0.9"/>
<circle cx="506.0" cy="450.7" r="1.8" fill="#9a9a9a" stroke="#3c3c3c" stroke-width="0.9"/>
<circle cx="511.1" cy="454.7" r="1.8" fill="#9a9a9a" stroke="#3c3c3c" stroke-width="0.9"/>
<circle cx="515.8" cy="454.7" r="1.8" fill="#9a9a9a" stroke="#3c3c3c" stroke-width="0.9"/>
<circle cx="520.6" cy="449.2" r="1.8" fill="#9a9a9a" stroke="#3c3c3c" stroke-width="0.9"/>
<line x1="526" y1="378.8" x2="526" y2="455" stroke="#111" stroke-width="1.4" />
<line x1="526" y1="455.0" x2="532.8" y2="455.0" stroke="#111" stroke-width="1.45" />
<text x="538.6" y="459.8" font-size="11" fill="#a0a0a0" text-anchor="start" font-weight="normal" >0</text>
<line x1="526" y1="439.76" x2="532.8" y2="439.76" stroke="#111" stroke-width="1.45" />
<text x="538.6" y="444.56" font-size="11" fill="#a0a0a0" text-anchor="start" font-weight="normal" >0.2</text>
<line x1="526" y1="424.52" x2="532.8" y2="424.52" stroke="#111" stroke-width="1.45" />
<text x="538.6" y="429.32" font-size="11" fill="#a0a0a0" text-anchor="start" font-weight="normal" >0.4</text>
<line x1="526" y1="409.28000000000003" x2="532.8" y2="409.28000000000003" stroke="#111" stroke-width="1.45" />
<text x="538.6" y="414.08000000000004" font-size="11" fill="#a0a0a0" text-anchor="start" font-weight="normal" >0.6</text>
<line x1="526" y1="394.04" x2="532.8" y2="394.04" stroke="#111" stroke-width="1.45" />
<text x="538.6" y="398.84000000000003" font-size="11" fill="#a0a0a0" text-anchor="start" font-weight="normal" >0.8</text>
<line x1="526" y1="378.8" x2="532.8" y2="378.8" stroke="#111" stroke-width="1.45" />
<text x="538.6" y="383.6" font-size="11" fill="#a0a0a0" text-anchor="start" font-weight="normal" >1</text>
<text transform="translate(573.2,416.7) rotate(-90)" font-size="15.6" text-anchor="middle">IP<tspan font-size="10.5" dy="3.6">25</tspan></text>
<text transform="translate(593.5,416.6) rotate(-90)" font-size="16.2" fill="#000" text-anchor="middle" font-weight="normal">(µg/g OC)</text>
<line x1="632.3" y1="366" x2="632.3" y2="453.5" stroke="#000" stroke-width="2.5"/>
<polyline points="622.4,377.8 632.3,366.8 642.1999999999999,377.8" fill="none" stroke="#000" stroke-width="2.5" stroke-linejoin="miter" stroke-miterlimit="10"/>
<text transform="translate(662.4,415.3) rotate(-90)" font-size="15.6" fill="#000" text-anchor="middle" font-weight="normal">Seasonal</text>
<text transform="translate(680.7,415.1) rotate(-90)" font-size="15.6" fill="#000" text-anchor="middle" font-weight="normal">sea ice</text>
<text x="161.3" y="433.6" font-size="14" fill="#000" text-anchor="start" font-weight="bold" >g</text>
<polyline points="160.1,532.5 164.9,532.9 169.6,531.5 173.5,532.5 177.2,531.8 182.0,531.3 186.8,530.0 191.8,529.6 196.6,530.0 201.4,529.6 206.1,531.0 210.9,532.9 215.9,531.0 220.7,531.8 225.5,532.8 230.5,532.8 235.0,532.8 240.0,525.9 244.8,487.2 247.3,488.7 252.0,512.9 254.5,521.6 259.3,517.0 264.0,532.3 268.8,531.9 273.9,519.2 278.9,516.8 283.4,524.9 288.4,511.0 293.2,499.7 298.0,526.8 303.0,522.8 307.8,517.7 312.6,483.4 317.6,455.2 322.4,522.4 327.2,523.8 332.0,520.9 336.7,526.0 341.5,522.8 346.4,519.7 351.4,526.8 356.2,524.6 361.0,525.0 365.7,516.5 370.5,515.8 375.6,492.9 380.3,499.5 385.1,496.8 390.0,495.8 394.9,478.3 399.7,510.3 404.5,522.1 409.2,512.6 414.0,478.1 418.9,524.1 423.8,527.5 428.7,532.1 433.5,531.1 438.4,534.4 443.2,534.4 448.1,530.7 452.7,534.4 457.8,534.4 462.7,532.9 467.3,534.1 472.2,534.4 477.1,532.6 481.9,534.4 486.8,534.4 491.7,531.9 496.5,529.0 501.2,531.9 506.0,531.9 511.1,530.7 515.8,533.4 520.6,529.7" fill="none" stroke="#dba034" stroke-width="1.35" stroke-linejoin="round"/>
<circle cx="160.1" cy="532.5" r="1.8" fill="#d4951f" stroke="#6a4a10" stroke-width="0.8"/>
<circle cx="164.9" cy="532.9" r="1.8" fill="#d4951f" stroke="#6a4a10" stroke-width="0.8"/>
<circle cx="169.6" cy="531.5" r="1.8" fill="#d4951f" stroke="#6a4a10" stroke-width="0.8"/>
<circle cx="173.5" cy="532.5" r="1.8" fill="#d4951f" stroke="#6a4a10" stroke-width="0.8"/>
<circle cx="177.2" cy="531.8" r="1.8" fill="#d4951f" stroke="#6a4a10" stroke-width="0.8"/>
<circle cx="182.0" cy="531.3" r="1.8" fill="#d4951f" stroke="#6a4a10" stroke-width="0.8"/>
<circle cx="186.8" cy="530.0" r="1.8" fill="#d4951f" stroke="#6a4a10" stroke-width="0.8"/>
<circle cx="191.8" cy="529.6" r="1.8" fill="#d4951f" stroke="#6a4a10" stroke-width="0.8"/>
<circle cx="196.6" cy="530.0" r="1.8" fill="#d4951f" stroke="#6a4a10" stroke-width="0.8"/>
<circle cx="201.4" cy="529.6" r="1.8" fill="#d4951f" stroke="#6a4a10" stroke-width="0.8"/>
<circle cx="206.1" cy="531.0" r="1.8" fill="#d4951f" stroke="#6a4a10" stroke-width="0.8"/>
<circle cx="210.9" cy="532.9" r="1.8" fill="#d4951f" stroke="#6a4a10" stroke-width="0.8"/>
<circle cx="215.9" cy="531.0" r="1.8" fill="#d4951f" stroke="#6a4a10" stroke-width="0.8"/>
<circle cx="220.7" cy="531.8" r="1.8" fill="#d4951f" stroke="#6a4a10" stroke-width="0.8"/>
<circle cx="225.5" cy="532.8" r="1.8" fill="#d4951f" stroke="#6a4a10" stroke-width="0.8"/>
<circle cx="230.5" cy="532.8" r="1.8" fill="#d4951f" stroke="#6a4a10" stroke-width="0.8"/>
<circle cx="235.0" cy="532.8" r="1.8" fill="#d4951f" stroke="#6a4a10" stroke-width="0.8"/>
<circle cx="240.0" cy="525.9" r="1.8" fill="#d4951f" stroke="#6a4a10" stroke-width="0.8"/>
<circle cx="244.8" cy="487.2" r="1.8" fill="#d4951f" stroke="#6a4a10" stroke-width="0.8"/>
<circle cx="247.3" cy="488.7" r="1.8" fill="#d4951f" stroke="#6a4a10" stroke-width="0.8"/>
<circle cx="252.0" cy="512.9" r="1.8" fill="#d4951f" stroke="#6a4a10" stroke-width="0.8"/>
<circle cx="254.5" cy="521.6" r="1.8" fill="#d4951f" stroke="#6a4a10" stroke-width="0.8"/>
<circle cx="259.3" cy="517.0" r="1.8" fill="#d4951f" stroke="#6a4a10" stroke-width="0.8"/>
<circle cx="264.0" cy="532.3" r="1.8" fill="#d4951f" stroke="#6a4a10" stroke-width="0.8"/>
<circle cx="268.8" cy="531.9" r="1.8" fill="#d4951f" stroke="#6a4a10" stroke-width="0.8"/>
<circle cx="273.9" cy="519.2" r="1.8" fill="#d4951f" stroke="#6a4a10" stroke-width="0.8"/>
<circle cx="278.9" cy="516.8" r="1.8" fill="#d4951f" stroke="#6a4a10" stroke-width="0.8"/>
<circle cx="283.4" cy="524.9" r="1.8" fill="#d4951f" stroke="#6a4a10" stroke-width="0.8"/>
<circle cx="288.4" cy="511.0" r="1.8" fill="#d4951f" stroke="#6a4a10" stroke-width="0.8"/>
<circle cx="293.2" cy="499.7" r="1.8" fill="#d4951f" stroke="#6a4a10" stroke-width="0.8"/>
<circle cx="298.0" cy="526.8" r="1.8" fill="#d4951f" stroke="#6a4a10" stroke-width="0.8"/>
<circle cx="303.0" cy="522.8" r="1.8" fill="#d4951f" stroke="#6a4a10" stroke-width="0.8"/>
<circle cx="307.8" cy="517.7" r="1.8" fill="#d4951f" stroke="#6a4a10" stroke-width="0.8"/>
<circle cx="312.6" cy="483.4" r="1.8" fill="#d4951f" stroke="#6a4a10" stroke-width="0.8"/>
<circle cx="317.6" cy="455.2" r="1.8" fill="#d4951f" stroke="#6a4a10" stroke-width="0.8"/>
<circle cx="322.4" cy="522.4" r="1.8" fill="#d4951f" stroke="#6a4a10" stroke-width="0.8"/>
<circle cx="327.2" cy="523.8" r="1.8" fill="#d4951f" stroke="#6a4a10" stroke-width="0.8"/>
<circle cx="332.0" cy="520.9" r="1.8" fill="#d4951f" stroke="#6a4a10" stroke-width="0.8"/>
<circle cx="336.7" cy="526.0" r="1.8" fill="#d4951f" stroke="#6a4a10" stroke-width="0.8"/>
<circle cx="341.5" cy="522.8" r="1.8" fill="#d4951f" stroke="#6a4a10" stroke-width="0.8"/>
<circle cx="346.4" cy="519.7" r="1.8" fill="#d4951f" stroke="#6a4a10" stroke-width="0.8"/>
<circle cx="351.4" cy="526.8" r="1.8" fill="#d4951f" stroke="#6a4a10" stroke-width="0.8"/>
<circle cx="356.2" cy="524.6" r="1.8" fill="#d4951f" stroke="#6a4a10" stroke-width="0.8"/>
<circle cx="361.0" cy="525.0" r="1.8" fill="#d4951f" stroke="#6a4a10" stroke-width="0.8"/>
<circle cx="365.7" cy="516.5" r="1.8" fill="#d4951f" stroke="#6a4a10" stroke-width="0.8"/>
<circle cx="370.5" cy="515.8" r="1.8" fill="#d4951f" stroke="#6a4a10" stroke-width="0.8"/>
<circle cx="375.6" cy="492.9" r="1.8" fill="#d4951f" stroke="#6a4a10" stroke-width="0.8"/>
<circle cx="380.3" cy="499.5" r="1.8" fill="#d4951f" stroke="#6a4a10" stroke-width="0.8"/>
<circle cx="385.1" cy="496.8" r="1.8" fill="#d4951f" stroke="#6a4a10" stroke-width="0.8"/>
<circle cx="390.0" cy="495.8" r="1.8" fill="#d4951f" stroke="#6a4a10" stroke-width="0.8"/>
<circle cx="394.9" cy="478.3" r="1.8" fill="#d4951f" stroke="#6a4a10" stroke-width="0.8"/>
<circle cx="399.7" cy="510.3" r="1.8" fill="#d4951f" stroke="#6a4a10" stroke-width="0.8"/>
<circle cx="404.5" cy="522.1" r="1.8" fill="#d4951f" stroke="#6a4a10" stroke-width="0.8"/>
<circle cx="409.2" cy="512.6" r="1.8" fill="#d4951f" stroke="#6a4a10" stroke-width="0.8"/>
<circle cx="414.0" cy="478.1" r="1.8" fill="#d4951f" stroke="#6a4a10" stroke-width="0.8"/>
<circle cx="418.9" cy="524.1" r="1.8" fill="#d4951f" stroke="#6a4a10" stroke-width="0.8"/>
<circle cx="423.8" cy="527.5" r="1.8" fill="#d4951f" stroke="#6a4a10" stroke-width="0.8"/>
<circle cx="428.7" cy="532.1" r="1.8" fill="#d4951f" stroke="#6a4a10" stroke-width="0.8"/>
<circle cx="433.5" cy="531.1" r="1.8" fill="#d4951f" stroke="#6a4a10" stroke-width="0.8"/>
<circle cx="438.4" cy="534.4" r="1.8" fill="#d4951f" stroke="#6a4a10" stroke-width="0.8"/>
<circle cx="443.2" cy="534.4" r="1.8" fill="#d4951f" stroke="#6a4a10" stroke-width="0.8"/>
<circle cx="448.1" cy="530.7" r="1.8" fill="#d4951f" stroke="#6a4a10" stroke-width="0.8"/>
<circle cx="452.7" cy="534.4" r="1.8" fill="#d4951f" stroke="#6a4a10" stroke-width="0.8"/>
<circle cx="457.8" cy="534.4" r="1.8" fill="#d4951f" stroke="#6a4a10" stroke-width="0.8"/>
<circle cx="462.7" cy="532.9" r="1.8" fill="#d4951f" stroke="#6a4a10" stroke-width="0.8"/>
<circle cx="467.3" cy="534.1" r="1.8" fill="#d4951f" stroke="#6a4a10" stroke-width="0.8"/>
<circle cx="472.2" cy="534.4" r="1.8" fill="#d4951f" stroke="#6a4a10" stroke-width="0.8"/>
<circle cx="477.1" cy="532.6" r="1.8" fill="#d4951f" stroke="#6a4a10" stroke-width="0.8"/>
<circle cx="481.9" cy="534.4" r="1.8" fill="#d4951f" stroke="#6a4a10" stroke-width="0.8"/>
<circle cx="486.8" cy="534.4" r="1.8" fill="#d4951f" stroke="#6a4a10" stroke-width="0.8"/>
<circle cx="491.7" cy="531.9" r="1.8" fill="#d4951f" stroke="#6a4a10" stroke-width="0.8"/>
<circle cx="496.5" cy="529.0" r="1.8" fill="#d4951f" stroke="#6a4a10" stroke-width="0.8"/>
<circle cx="501.2" cy="531.9" r="1.8" fill="#d4951f" stroke="#6a4a10" stroke-width="0.8"/>
<circle cx="506.0" cy="531.9" r="1.8" fill="#d4951f" stroke="#6a4a10" stroke-width="0.8"/>
<circle cx="511.1" cy="530.7" r="1.8" fill="#d4951f" stroke="#6a4a10" stroke-width="0.8"/>
<circle cx="515.8" cy="533.4" r="1.8" fill="#d4951f" stroke="#6a4a10" stroke-width="0.8"/>
<circle cx="520.6" cy="529.7" r="1.8" fill="#d4951f" stroke="#6a4a10" stroke-width="0.8"/>
<line x1="154.4" y1="457.9" x2="154.4" y2="534.1" stroke="#111" stroke-width="1.4" />
<line x1="147.7" y1="534.1" x2="154.4" y2="534.1" stroke="#111" stroke-width="1.45" />
<text x="141.6" y="538.9" font-size="11" fill="#d4a03c" text-anchor="end" font-weight="normal" >0</text>
<line x1="147.7" y1="508.7" x2="154.4" y2="508.7" stroke="#111" stroke-width="1.45" />
<text x="141.6" y="513.5" font-size="11" fill="#d4a03c" text-anchor="end" font-weight="normal" >0.6</text>
<line x1="147.7" y1="483.3" x2="154.4" y2="483.3" stroke="#111" stroke-width="1.45" />
<text x="141.6" y="488.1" font-size="11" fill="#d4a03c" text-anchor="end" font-weight="normal" >1.2</text>
<line x1="147.7" y1="457.9" x2="154.4" y2="457.9" stroke="#111" stroke-width="1.45" />
<text x="141.6" y="462.7" font-size="11" fill="#d4a03c" text-anchor="end" font-weight="normal" >1.8</text>
<text transform="translate(101.8,496.3) rotate(-90)" font-size="15.6" fill="#000" text-anchor="middle" font-weight="normal">HBI III</text>
<text transform="translate(119.1,495.4) rotate(-90)" font-size="16.2" fill="#000" text-anchor="middle" font-weight="normal">(µg/g OC)</text>
<text x="161.3" y="524.2" font-size="14" fill="#000" text-anchor="start" font-weight="bold" >h</text>
<text transform="translate(12.9,488.8) rotate(-90)" font-size="15.85" fill="#000" text-anchor="middle" font-weight="normal">MIZ primary</text>
<text transform="translate(32.3,488.5) rotate(-90)" font-size="15.85" fill="#000" text-anchor="middle" font-weight="normal">productivity</text>
<line x1="53.4" y1="445.7" x2="53.4" y2="533.4" stroke="#000" stroke-width="2.5"/>
<polyline points="43.5,457.5 53.4,446.5 63.3,457.5" fill="none" stroke="#000" stroke-width="2.5" stroke-linejoin="miter" stroke-miterlimit="10"/>
<polyline points="160.1,603.4 164.9,604.1 169.6,603.0 173.5,603.7 177.2,603.1 182.0,603.4 186.8,603.1 191.8,602.7 196.6,603.1 201.4,602.7 206.1,603.1 210.9,603.7 215.9,603.1 220.7,603.4 225.5,603.4 230.5,603.4 235.0,603.7 240.0,598.6 244.8,561.1 247.3,563.7 252.0,583.5 254.5,594.7 259.3,588.6 264.0,602.9 268.8,603.6 273.9,593.7 278.9,589.8 283.4,597.4 288.4,587.6 293.2,579.9 298.0,598.8 303.0,596.6 307.8,590.8 312.6,562.3 317.6,530.7 322.4,597.4 327.2,597.4 332.0,597.4 336.7,600.0 341.5,596.9 346.4,592.6 351.4,601.3 356.2,599.6 361.0,598.8 365.7,589.8 370.5,589.6 375.6,563.1 380.3,604.4 385.1,578.4 390.0,577.4 394.9,604.4 399.7,586.7 404.5,596.9 409.2,587.2 414.0,544.8 418.9,596.9 423.8,601.5 428.7,602.8 433.5,600.2 438.4,600.6 443.2,603.0 448.1,604.3 452.7,604.3 457.8,604.3 462.7,604.3 467.3,604.3 472.2,604.3 477.1,604.3 481.9,604.3 486.8,603.7 491.7,604.3 496.5,604.3 501.2,604.3 506.0,604.3 511.1,604.3 515.8,604.3 520.6,603.2" fill="none" stroke="#a06a36" stroke-width="1.35" stroke-linejoin="round"/>
<circle cx="160.1" cy="603.4" r="1.8" fill="#8a6028" stroke="#3e2a0c" stroke-width="0.8"/>
<circle cx="164.9" cy="604.1" r="1.8" fill="#8a6028" stroke="#3e2a0c" stroke-width="0.8"/>
<circle cx="169.6" cy="603.0" r="1.8" fill="#8a6028" stroke="#3e2a0c" stroke-width="0.8"/>
<circle cx="173.5" cy="603.7" r="1.8" fill="#8a6028" stroke="#3e2a0c" stroke-width="0.8"/>
<circle cx="177.2" cy="603.1" r="1.8" fill="#8a6028" stroke="#3e2a0c" stroke-width="0.8"/>
<circle cx="182.0" cy="603.4" r="1.8" fill="#8a6028" stroke="#3e2a0c" stroke-width="0.8"/>
<circle cx="186.8" cy="603.1" r="1.8" fill="#8a6028" stroke="#3e2a0c" stroke-width="0.8"/>
<circle cx="191.8" cy="602.7" r="1.8" fill="#8a6028" stroke="#3e2a0c" stroke-width="0.8"/>
<circle cx="196.6" cy="603.1" r="1.8" fill="#8a6028" stroke="#3e2a0c" stroke-width="0.8"/>
<circle cx="201.4" cy="602.7" r="1.8" fill="#8a6028" stroke="#3e2a0c" stroke-width="0.8"/>
<circle cx="206.1" cy="603.1" r="1.8" fill="#8a6028" stroke="#3e2a0c" stroke-width="0.8"/>
<circle cx="210.9" cy="603.7" r="1.8" fill="#8a6028" stroke="#3e2a0c" stroke-width="0.8"/>
<circle cx="215.9" cy="603.1" r="1.8" fill="#8a6028" stroke="#3e2a0c" stroke-width="0.8"/>
<circle cx="220.7" cy="603.4" r="1.8" fill="#8a6028" stroke="#3e2a0c" stroke-width="0.8"/>
<circle cx="225.5" cy="603.4" r="1.8" fill="#8a6028" stroke="#3e2a0c" stroke-width="0.8"/>
<circle cx="230.5" cy="603.4" r="1.8" fill="#8a6028" stroke="#3e2a0c" stroke-width="0.8"/>
<circle cx="235.0" cy="603.7" r="1.8" fill="#8a6028" stroke="#3e2a0c" stroke-width="0.8"/>
<circle cx="240.0" cy="598.6" r="1.8" fill="#8a6028" stroke="#3e2a0c" stroke-width="0.8"/>
<circle cx="244.8" cy="561.1" r="1.8" fill="#8a6028" stroke="#3e2a0c" stroke-width="0.8"/>
<circle cx="247.3" cy="563.7" r="1.8" fill="#8a6028" stroke="#3e2a0c" stroke-width="0.8"/>
<circle cx="252.0" cy="583.5" r="1.8" fill="#8a6028" stroke="#3e2a0c" stroke-width="0.8"/>
<circle cx="254.5" cy="594.7" r="1.8" fill="#8a6028" stroke="#3e2a0c" stroke-width="0.8"/>
<circle cx="259.3" cy="588.6" r="1.8" fill="#8a6028" stroke="#3e2a0c" stroke-width="0.8"/>
<circle cx="264.0" cy="602.9" r="1.8" fill="#8a6028" stroke="#3e2a0c" stroke-width="0.8"/>
<circle cx="268.8" cy="603.6" r="1.8" fill="#8a6028" stroke="#3e2a0c" stroke-width="0.8"/>
<circle cx="273.9" cy="593.7" r="1.8" fill="#8a6028" stroke="#3e2a0c" stroke-width="0.8"/>
<circle cx="278.9" cy="589.8" r="1.8" fill="#8a6028" stroke="#3e2a0c" stroke-width="0.8"/>
<circle cx="283.4" cy="597.4" r="1.8" fill="#8a6028" stroke="#3e2a0c" stroke-width="0.8"/>
<circle cx="288.4" cy="587.6" r="1.8" fill="#8a6028" stroke="#3e2a0c" stroke-width="0.8"/>
<circle cx="293.2" cy="579.9" r="1.8" fill="#8a6028" stroke="#3e2a0c" stroke-width="0.8"/>
<circle cx="298.0" cy="598.8" r="1.8" fill="#8a6028" stroke="#3e2a0c" stroke-width="0.8"/>
<circle cx="303.0" cy="596.6" r="1.8" fill="#8a6028" stroke="#3e2a0c" stroke-width="0.8"/>
<circle cx="307.8" cy="590.8" r="1.8" fill="#8a6028" stroke="#3e2a0c" stroke-width="0.8"/>
<circle cx="312.6" cy="562.3" r="1.8" fill="#8a6028" stroke="#3e2a0c" stroke-width="0.8"/>
<circle cx="317.6" cy="530.7" r="1.8" fill="#8a6028" stroke="#3e2a0c" stroke-width="0.8"/>
<circle cx="322.4" cy="597.4" r="1.8" fill="#8a6028" stroke="#3e2a0c" stroke-width="0.8"/>
<circle cx="327.2" cy="597.4" r="1.8" fill="#8a6028" stroke="#3e2a0c" stroke-width="0.8"/>
<circle cx="332.0" cy="597.4" r="1.8" fill="#8a6028" stroke="#3e2a0c" stroke-width="0.8"/>
<circle cx="336.7" cy="600.0" r="1.8" fill="#8a6028" stroke="#3e2a0c" stroke-width="0.8"/>
<circle cx="341.5" cy="596.9" r="1.8" fill="#8a6028" stroke="#3e2a0c" stroke-width="0.8"/>
<circle cx="346.4" cy="592.6" r="1.8" fill="#8a6028" stroke="#3e2a0c" stroke-width="0.8"/>
<circle cx="351.4" cy="601.3" r="1.8" fill="#8a6028" stroke="#3e2a0c" stroke-width="0.8"/>
<circle cx="356.2" cy="599.6" r="1.8" fill="#8a6028" stroke="#3e2a0c" stroke-width="0.8"/>
<circle cx="361.0" cy="598.8" r="1.8" fill="#8a6028" stroke="#3e2a0c" stroke-width="0.8"/>
<circle cx="365.7" cy="589.8" r="1.8" fill="#8a6028" stroke="#3e2a0c" stroke-width="0.8"/>
<circle cx="370.5" cy="589.6" r="1.8" fill="#8a6028" stroke="#3e2a0c" stroke-width="0.8"/>
<circle cx="375.6" cy="563.1" r="1.8" fill="#8a6028" stroke="#3e2a0c" stroke-width="0.8"/>
<circle cx="380.3" cy="604.4" r="1.8" fill="#8a6028" stroke="#3e2a0c" stroke-width="0.8"/>
<circle cx="385.1" cy="578.4" r="1.8" fill="#8a6028" stroke="#3e2a0c" stroke-width="0.8"/>
<circle cx="390.0" cy="577.4" r="1.8" fill="#8a6028" stroke="#3e2a0c" stroke-width="0.8"/>
<circle cx="394.9" cy="604.4" r="1.8" fill="#8a6028" stroke="#3e2a0c" stroke-width="0.8"/>
<circle cx="399.7" cy="586.7" r="1.8" fill="#8a6028" stroke="#3e2a0c" stroke-width="0.8"/>
<circle cx="404.5" cy="596.9" r="1.8" fill="#8a6028" stroke="#3e2a0c" stroke-width="0.8"/>
<circle cx="409.2" cy="587.2" r="1.8" fill="#8a6028" stroke="#3e2a0c" stroke-width="0.8"/>
<circle cx="414.0" cy="544.8" r="1.8" fill="#8a6028" stroke="#3e2a0c" stroke-width="0.8"/>
<circle cx="418.9" cy="596.9" r="1.8" fill="#8a6028" stroke="#3e2a0c" stroke-width="0.8"/>
<circle cx="423.8" cy="601.5" r="1.8" fill="#8a6028" stroke="#3e2a0c" stroke-width="0.8"/>
<circle cx="428.7" cy="602.8" r="1.8" fill="#8a6028" stroke="#3e2a0c" stroke-width="0.8"/>
<circle cx="433.5" cy="600.2" r="1.8" fill="#8a6028" stroke="#3e2a0c" stroke-width="0.8"/>
<circle cx="438.4" cy="600.6" r="1.8" fill="#8a6028" stroke="#3e2a0c" stroke-width="0.8"/>
<circle cx="443.2" cy="603.0" r="1.8" fill="#8a6028" stroke="#3e2a0c" stroke-width="0.8"/>
<circle cx="448.1" cy="604.3" r="1.8" fill="#8a6028" stroke="#3e2a0c" stroke-width="0.8"/>
<circle cx="452.7" cy="604.3" r="1.8" fill="#8a6028" stroke="#3e2a0c" stroke-width="0.8"/>
<circle cx="457.8" cy="604.3" r="1.8" fill="#8a6028" stroke="#3e2a0c" stroke-width="0.8"/>
<circle cx="462.7" cy="604.3" r="1.8" fill="#8a6028" stroke="#3e2a0c" stroke-width="0.8"/>
<circle cx="467.3" cy="604.3" r="1.8" fill="#8a6028" stroke="#3e2a0c" stroke-width="0.8"/>
<circle cx="472.2" cy="604.3" r="1.8" fill="#8a6028" stroke="#3e2a0c" stroke-width="0.8"/>
<circle cx="477.1" cy="604.3" r="1.8" fill="#8a6028" stroke="#3e2a0c" stroke-width="0.8"/>
<circle cx="481.9" cy="604.3" r="1.8" fill="#8a6028" stroke="#3e2a0c" stroke-width="0.8"/>
<circle cx="486.8" cy="603.7" r="1.8" fill="#8a6028" stroke="#3e2a0c" stroke-width="0.8"/>
<circle cx="491.7" cy="604.3" r="1.8" fill="#8a6028" stroke="#3e2a0c" stroke-width="0.8"/>
<circle cx="496.5" cy="604.3" r="1.8" fill="#8a6028" stroke="#3e2a0c" stroke-width="0.8"/>
<circle cx="501.2" cy="604.3" r="1.8" fill="#8a6028" stroke="#3e2a0c" stroke-width="0.8"/>
<circle cx="506.0" cy="604.3" r="1.8" fill="#8a6028" stroke="#3e2a0c" stroke-width="0.8"/>
<circle cx="511.1" cy="604.3" r="1.8" fill="#8a6028" stroke="#3e2a0c" stroke-width="0.8"/>
<circle cx="515.8" cy="604.3" r="1.8" fill="#8a6028" stroke="#3e2a0c" stroke-width="0.8"/>
<circle cx="520.6" cy="603.2" r="1.8" fill="#8a6028" stroke="#3e2a0c" stroke-width="0.8"/>
<line x1="526" y1="528" x2="526" y2="604" stroke="#111" stroke-width="1.4" />
<line x1="526" y1="604.0" x2="532.8" y2="604.0" stroke="#111" stroke-width="1.45" />
<text x="538.6" y="608.8" font-size="11" fill="#a0703f" text-anchor="start" font-weight="normal" >0</text>
<line x1="526" y1="585.0" x2="532.8" y2="585.0" stroke="#111" stroke-width="1.45" />
<text x="538.6" y="589.8" font-size="11" fill="#a0703f" text-anchor="start" font-weight="normal" >0.8</text>
<line x1="526" y1="566.0" x2="532.8" y2="566.0" stroke="#111" stroke-width="1.45" />
<text x="538.6" y="570.8" font-size="11" fill="#a0703f" text-anchor="start" font-weight="normal" >1.6</text>
<line x1="526" y1="547.0" x2="532.8" y2="547.0" stroke="#111" stroke-width="1.45" />
<text x="538.6" y="551.8" font-size="11" fill="#a0703f" text-anchor="start" font-weight="normal" >2.4</text>
<line x1="526" y1="528.0" x2="532.8" y2="528.0" stroke="#111" stroke-width="1.45" />
<text x="538.6" y="532.8" font-size="11" fill="#a0703f" text-anchor="start" font-weight="normal" >3.2</text>
<text transform="translate(572.3,566.4) rotate(-90)" font-size="15.6" fill="#000" text-anchor="middle" font-weight="normal">HBI IV</text>
<text transform="translate(590.2,566.6) rotate(-90)" font-size="16.2" fill="#000" text-anchor="middle" font-weight="normal">(µg/g OC)</text>
<line x1="632.3" y1="520" x2="632.3" y2="607.4" stroke="#000" stroke-width="2.5"/>
<polyline points="622.4,531.8 632.3,520.8 642.1999999999999,531.8" fill="none" stroke="#000" stroke-width="2.5" stroke-linejoin="miter" stroke-miterlimit="10"/>
<text transform="translate(662.6,565.1) rotate(-90)" font-size="15.6" fill="#000" text-anchor="middle" font-weight="normal">MIZ primary</text>
<text transform="translate(680.8,564.3) rotate(-90)" font-size="15.6" fill="#000" text-anchor="middle" font-weight="normal">productivity</text>
<text x="163.1" y="597.9" font-size="14" fill="#000" text-anchor="start" font-weight="bold" >i</text>
<line x1="157.8" y1="641.2" x2="520.9" y2="641.2" stroke="#111" stroke-width="1.4" />
<line x1="157.8" y1="635.5" x2="157.8" y2="641.2" stroke="#111" stroke-width="1.45" />
<text x="157.8" y="625" font-size="10.8" fill="#111" text-anchor="middle" font-weight="normal" >0</text>
<line x1="218.31666666666666" y1="635.5" x2="218.31666666666666" y2="641.2" stroke="#111" stroke-width="1.45" />
<text x="218.3" y="625" font-size="10.8" fill="#111" text-anchor="middle" font-weight="normal" >50</text>
<line x1="278.83333333333337" y1="635.5" x2="278.83333333333337" y2="641.2" stroke="#111" stroke-width="1.45" />
<text x="278.8" y="625" font-size="10.8" fill="#111" text-anchor="middle" font-weight="normal" >100</text>
<line x1="339.35" y1="635.5" x2="339.35" y2="641.2" stroke="#111" stroke-width="1.45" />
<text x="339.4" y="625" font-size="10.8" fill="#111" text-anchor="middle" font-weight="normal" >150</text>
<line x1="399.8666666666667" y1="635.5" x2="399.8666666666667" y2="641.2" stroke="#111" stroke-width="1.45" />
<text x="399.9" y="625" font-size="10.8" fill="#111" text-anchor="middle" font-weight="normal" >200</text>
<line x1="460.38333333333327" y1="635.5" x2="460.38333333333327" y2="641.2" stroke="#111" stroke-width="1.45" />
<text x="460.4" y="625" font-size="10.8" fill="#111" text-anchor="middle" font-weight="normal" >250</text>
<line x1="520.9" y1="635.5" x2="520.9" y2="641.2" stroke="#111" stroke-width="1.45" />
<text x="520.9" y="625" font-size="10.8" fill="#111" text-anchor="middle" font-weight="normal" >300</text>
<text x="134.8" y="624.8" font-size="15" fill="#111" text-anchor="middle" font-weight="normal" >Depth</text>
<text x="135.3" y="642" font-size="15" fill="#111" text-anchor="middle" font-weight="normal" >(cm)</text>
<text x="146" y="680" font-size="14" fill="#000" text-anchor="middle" font-weight="bold" >Modelled</text>
<text x="146" y="695.6" font-size="14" fill="#000" text-anchor="middle" font-weight="bold" >ages (yr BP)</text>
<polygon points="195.1,642.2 200.7,651.1 189.5,651.1" fill="#2088ee" stroke="#1a6ac0" stroke-width="0.3"/>
<polygon points="227.4,642.2 233.0,651.1 221.8,651.1" fill="#2088ee" stroke="#1a6ac0" stroke-width="0.3"/>
<polygon points="249,642.2 254.6,651.1 243.4,651.1" fill="#2088ee" stroke="#1a6ac0" stroke-width="0.3"/>
<polygon points="285,642.2 290.6,651.1 279.4,651.1" fill="#2088ee" stroke="#1a6ac0" stroke-width="0.3"/>
<polygon points="321,642.2 326.6,651.1 315.4,651.1" fill="#2088ee" stroke="#1a6ac0" stroke-width="0.3"/>
<polygon points="335.4,642.2 341.0,651.1 329.79999999999995,651.1" fill="#2088ee" stroke="#1a6ac0" stroke-width="0.3"/>
<polygon points="357.2,642.2 362.8,651.1 351.59999999999997,651.1" fill="#2088ee" stroke="#1a6ac0" stroke-width="0.3"/>
<polygon points="405.8,642.2 411.40000000000003,651.1 400.2,651.1" fill="#2088ee" stroke="#1a6ac0" stroke-width="0.3"/>
<polygon points="423.4,642.2 429.0,651.1 417.79999999999995,651.1" fill="#2088ee" stroke="#1a6ac0" stroke-width="0.3"/>
<polygon points="448.1,642.2 453.70000000000005,651.1 442.5,651.1" fill="#2088ee" stroke="#1a6ac0" stroke-width="0.3"/>
<polygon points="472.3,642.2 477.90000000000003,651.1 466.7,651.1" fill="#2088ee" stroke="#1a6ac0" stroke-width="0.3"/>
<polygon points="503.8,642.2 509.40000000000003,651.1 498.2,651.1" fill="#2088ee" stroke="#1a6ac0" stroke-width="0.3"/>
<polygon points="407,650.8 412.6,659.6999999999999 401.4,659.6999999999999" fill="#2088ee" stroke="#1a6ac0" stroke-width="0.3"/>
<text transform="translate(199.9,655.2) rotate(-90)" font-size="12.8" text-anchor="end">1455±97</text>
<text transform="translate(232.20000000000002,655.2) rotate(-90)" font-size="12.8" text-anchor="end">3592±131</text>
<text transform="translate(253.8,655.2) rotate(-90)" font-size="12.8" text-anchor="end">11820±284</text>
<text transform="translate(289.8,655.2) rotate(-90)" font-size="12.8" text-anchor="end">13770±278</text>
<text transform="translate(325.8,655.2) rotate(-90)" font-size="12.8" text-anchor="end">14036±227</text>
<text transform="translate(340.2,655.2) rotate(-90)" font-size="12.8" text-anchor="end">14151±227</text>
<text transform="translate(362.0,655.2) rotate(-90)" font-size="12.8" text-anchor="end">14371±229</text>
<text transform="translate(397.3,652.6) rotate(-90)" font-size="12.8" text-anchor="end">14813±228</text>
<text transform="translate(412.40000000000003,661.0) rotate(-90)" font-size="12.8" text-anchor="end">14841±270</text>
<text transform="translate(428.8,655.2) rotate(-90)" font-size="12.8" text-anchor="end">15378±435</text>
<text transform="translate(453.40000000000003,655.2) rotate(-90)" font-size="12.8" text-anchor="end">21166±226</text>
<text transform="translate(477.8,655.2) rotate(-90)" font-size="12.8" text-anchor="end">21425±205</text>
<text transform="translate(509.1,655.2) rotate(-90)" font-size="12.8" text-anchor="end">28910±396</text>
<line x1="244.8" y1="38.2" x2="244.8" y2="641" stroke="#000" stroke-width="2" stroke-dasharray="6.1 6.59"/>
<line x1="430.8" y1="38.2" x2="430.8" y2="641" stroke="#000" stroke-width="2" stroke-dasharray="6.1 6.59"/>
</g></svg>
</body></html>
